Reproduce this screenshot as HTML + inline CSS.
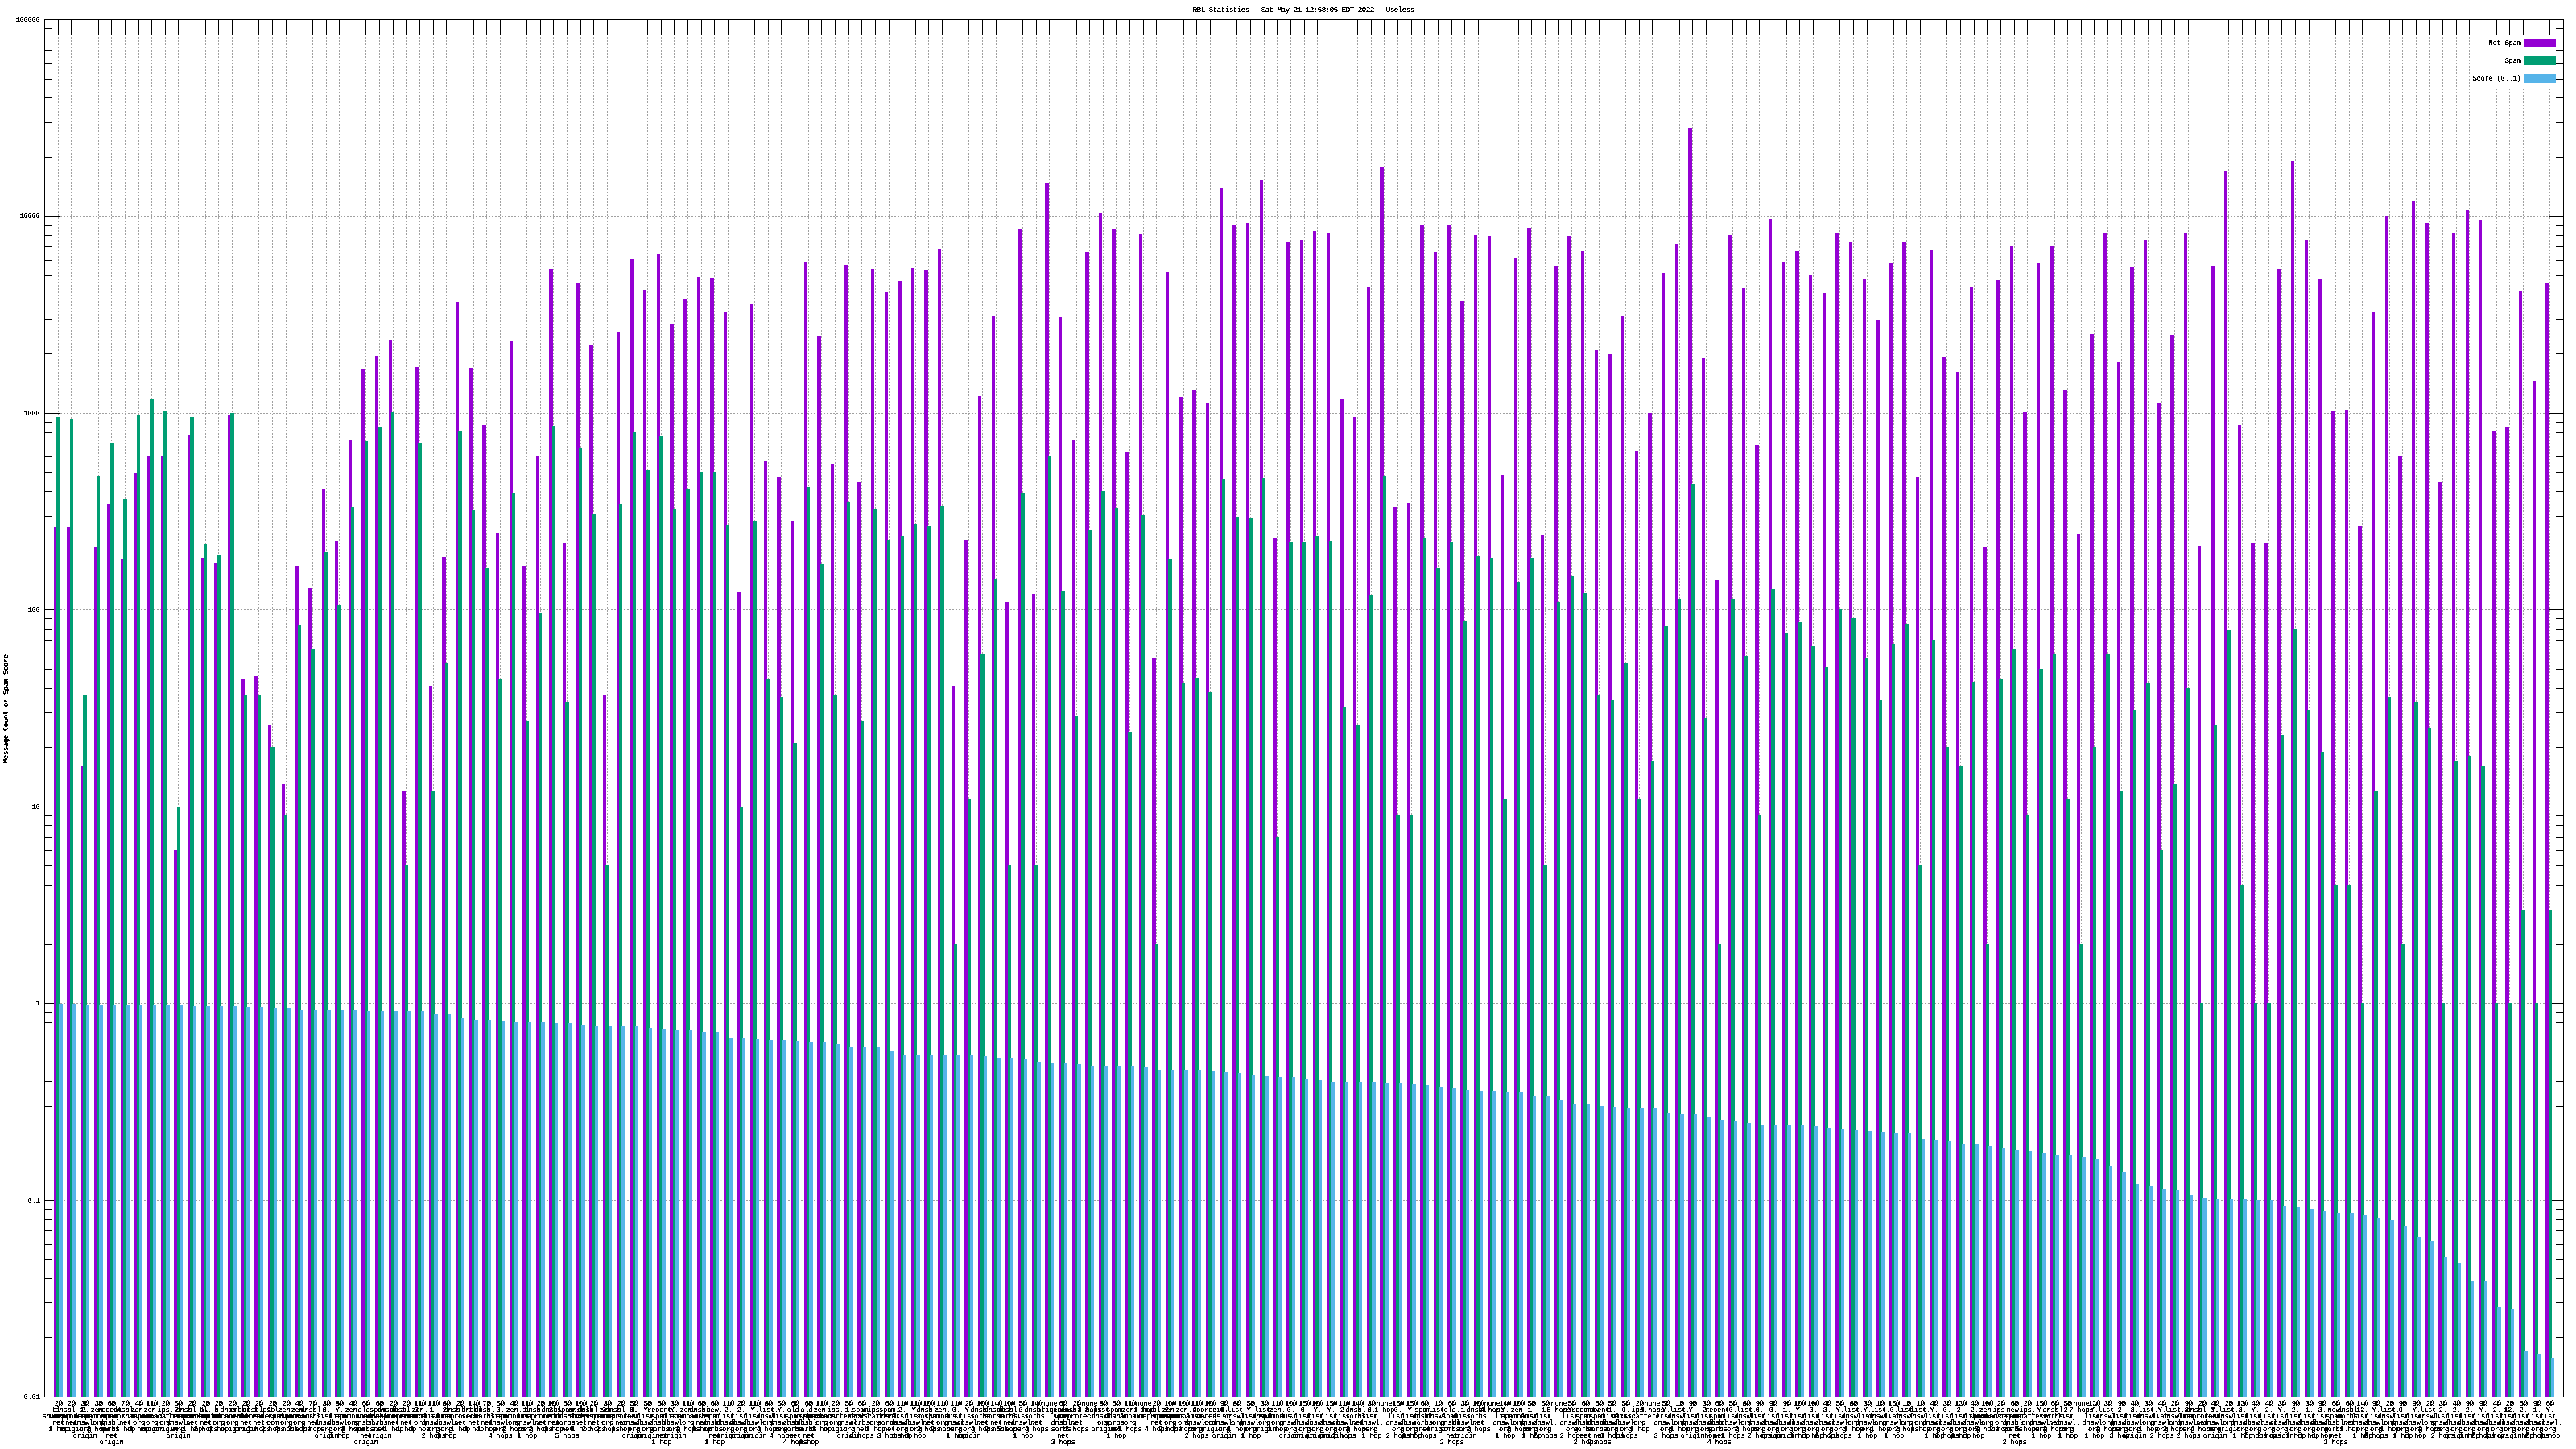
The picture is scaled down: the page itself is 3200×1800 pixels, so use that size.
<!DOCTYPE html>
<html><head><meta charset="utf-8"><title>RBL Statistics</title>
<style>html,body{margin:0;padding:0;background:#fff}svg{display:block}text{font-family:"Liberation Mono","DejaVu Sans Mono",monospace;font-size:9px;letter-spacing:-0.4px;fill:#000;stroke:#000;stroke-width:0px;text-rendering:geometricPrecision}</style></head><body>
<svg width="3200" height="1800" viewBox="0 0 3200 1800" shape-rendering="crispEdges">
<rect width="3200" height="1800" fill="#fff"/>
<defs><filter id="px" x="0" y="0" width="100%" height="100%" filterUnits="userSpaceOnUse" primitiveUnits="userSpaceOnUse" color-interpolation-filters="sRGB"><feComponentTransfer><feFuncA type="discrete" tableValues="0 1 1"/></feComponentTransfer></filter></defs>
<g stroke="#a0a0a0" stroke-width="1" stroke-dasharray="2 2" fill="none">
<path d="M72.5 46V1735M88.5 46V1735M105.5 46V1735M122.5 46V1735M138.5 46V1735M155.5 46V1735M172.5 46V1735M188.5 46V1735M205.5 46V1735M221.5 46V1735M238.5 46V1735M255.5 46V1735M271.5 46V1735M288.5 46V1735M305.5 46V1735M321.5 46V1735M338.5 46V1735M355.5 46V1735M371.5 46V1735M388.5 46V1735M405.5 46V1735M421.5 46V1735M438.5 46V1735M454.5 46V1735M471.5 46V1735M488.5 46V1735M504.5 46V1735M521.5 46V1735M538.5 46V1735M554.5 46V1735M571.5 46V1735M588.5 46V1735M604.5 46V1735M621.5 46V1735M638.5 46V1735M654.5 46V1735M671.5 46V1735M687.5 46V1735M704.5 46V1735M721.5 46V1735M737.5 46V1735M754.5 46V1735M771.5 46V1735M787.5 46V1735M804.5 46V1735M821.5 46V1735M837.5 46V1735M854.5 46V1735M871.5 46V1735M887.5 46V1735M904.5 46V1735M920.5 46V1735M937.5 46V1735M954.5 46V1735M970.5 46V1735M987.5 46V1735M1004.5 46V1735M1020.5 46V1735M1037.5 46V1735M1054.5 46V1735M1070.5 46V1735M1087.5 46V1735M1104.5 46V1735M1120.5 46V1735M1137.5 46V1735M1153.5 46V1735M1170.5 46V1735M1187.5 46V1735M1203.5 46V1735M1220.5 46V1735M1237.5 46V1735M1253.5 46V1735M1270.5 46V1735M1287.5 46V1735M1303.5 46V1735M1320.5 46V1735M1337.5 46V1735M1353.5 46V1735M1370.5 46V1735M1386.5 46V1735M1403.5 46V1735M1420.5 46V1735M1436.5 46V1735M1453.5 46V1735M1470.5 46V1735M1486.5 46V1735M1503.5 46V1735M1520.5 46V1735M1536.5 46V1735M1553.5 46V1735M1570.5 46V1735M1586.5 46V1735M1603.5 46V1735M1620.5 46V1735M1636.5 46V1735M1653.5 46V1735M1669.5 46V1735M1686.5 46V1735M1703.5 46V1735M1719.5 46V1735M1736.5 46V1735M1753.5 46V1735M1769.5 46V1735M1786.5 46V1735M1803.5 46V1735M1819.5 46V1735M1836.5 46V1735M1853.5 46V1735M1869.5 46V1735M1886.5 46V1735M1902.5 46V1735M1919.5 46V1735M1936.5 46V1735M1952.5 46V1735M1969.5 46V1735M1986.5 46V1735M2002.5 46V1735M2019.5 46V1735M2036.5 46V1735M2052.5 46V1735M2069.5 46V1735M2086.5 46V1735M2102.5 46V1735M2119.5 46V1735M2135.5 46V1735M2152.5 46V1735M2169.5 46V1735M2185.5 46V1735M2202.5 46V1735M2219.5 46V1735M2235.5 46V1735M2252.5 46V1735M2269.5 46V1735M2285.5 46V1735M2302.5 46V1735M2319.5 46V1735M2335.5 46V1735M2352.5 46V1735M2368.5 46V1735M2385.5 46V1735M2402.5 46V1735M2418.5 46V1735M2435.5 46V1735M2452.5 46V1735M2468.5 46V1735M2485.5 46V1735M2502.5 46V1735M2518.5 46V1735M2535.5 46V1735M2552.5 46V1735M2568.5 46V1735M2585.5 46V1735M2601.5 46V1735M2618.5 46V1735M2635.5 46V1735M2651.5 46V1735M2668.5 46V1735M2685.5 46V1735M2701.5 46V1735M2718.5 46V1735M2735.5 46V1735M2751.5 46V1735M2768.5 46V1735M2785.5 46V1735M2801.5 46V1735M2818.5 46V1735M2834.5 46V1735M2851.5 46V1735M2868.5 46V1735M2884.5 46V1735M2901.5 46V1735M2918.5 46V1735M2934.5 46V1735M2951.5 46V1735M2968.5 46V1735M2984.5 46V1735M3001.5 46V1735M3018.5 46V1735M3034.5 46V1735M3051.5 46V1735M3067.5 46V1735M3084.5 46V1735M3101.5 46V1735M3117.5 46V1735M3134.5 46V1735M3151.5 46V1735M3167.5 46V1735"/>
<path d="M75 1491.5H3166M75 1246.5H3166M75 1002.5H3166M75 757.5H3166M75 513.5H3166M75 268.5H3166"/>
</g>
<rect x="3069" y="43" width="115" height="67" fill="#fff"/>
<path stroke="#000" stroke-width="1" fill="none" d="M72.5 25v18M88.5 25v18M105.5 25v18M122.5 25v18M138.5 25v18M155.5 25v18M172.5 25v18M188.5 25v18M205.5 25v18M221.5 25v18M238.5 25v18M255.5 25v18M271.5 25v18M288.5 25v18M305.5 25v18M321.5 25v18M338.5 25v18M355.5 25v18M371.5 25v18M388.5 25v18M405.5 25v18M421.5 25v18M438.5 25v18M454.5 25v18M471.5 25v18M488.5 25v18M504.5 25v18M521.5 25v18M538.5 25v18M554.5 25v18M571.5 25v18M588.5 25v18M604.5 25v18M621.5 25v18M638.5 25v18M654.5 25v18M671.5 25v18M687.5 25v18M704.5 25v18M721.5 25v18M737.5 25v18M754.5 25v18M771.5 25v18M787.5 25v18M804.5 25v18M821.5 25v18M837.5 25v18M854.5 25v18M871.5 25v18M887.5 25v18M904.5 25v18M920.5 25v18M937.5 25v18M954.5 25v18M970.5 25v18M987.5 25v18M1004.5 25v18M1020.5 25v18M1037.5 25v18M1054.5 25v18M1070.5 25v18M1087.5 25v18M1104.5 25v18M1120.5 25v18M1137.5 25v18M1153.5 25v18M1170.5 25v18M1187.5 25v18M1203.5 25v18M1220.5 25v18M1237.5 25v18M1253.5 25v18M1270.5 25v18M1287.5 25v18M1303.5 25v18M1320.5 25v18M1337.5 25v18M1353.5 25v18M1370.5 25v18M1386.5 25v18M1403.5 25v18M1420.5 25v18M1436.5 25v18M1453.5 25v18M1470.5 25v18M1486.5 25v18M1503.5 25v18M1520.5 25v18M1536.5 25v18M1553.5 25v18M1570.5 25v18M1586.5 25v18M1603.5 25v18M1620.5 25v18M1636.5 25v18M1653.5 25v18M1669.5 25v18M1686.5 25v18M1703.5 25v18M1719.5 25v18M1736.5 25v18M1753.5 25v18M1769.5 25v18M1786.5 25v18M1803.5 25v18M1819.5 25v18M1836.5 25v18M1853.5 25v18M1869.5 25v18M1886.5 25v18M1902.5 25v18M1919.5 25v18M1936.5 25v18M1952.5 25v18M1969.5 25v18M1986.5 25v18M2002.5 25v18M2019.5 25v18M2036.5 25v18M2052.5 25v18M2069.5 25v18M2086.5 25v18M2102.5 25v18M2119.5 25v18M2135.5 25v18M2152.5 25v18M2169.5 25v18M2185.5 25v18M2202.5 25v18M2219.5 25v18M2235.5 25v18M2252.5 25v18M2269.5 25v18M2285.5 25v18M2302.5 25v18M2319.5 25v18M2335.5 25v18M2352.5 25v18M2368.5 25v18M2385.5 25v18M2402.5 25v18M2418.5 25v18M2435.5 25v18M2452.5 25v18M2468.5 25v18M2485.5 25v18M2502.5 25v18M2518.5 25v18M2535.5 25v18M2552.5 25v18M2568.5 25v18M2585.5 25v18M2601.5 25v18M2618.5 25v18M2635.5 25v18M2651.5 25v18M2668.5 25v18M2685.5 25v18M2701.5 25v18M2718.5 25v18M2735.5 25v18M2751.5 25v18M2768.5 25v18M2785.5 25v18M2801.5 25v18M2818.5 25v18M2834.5 25v18M2851.5 25v18M2868.5 25v18M2884.5 25v18M2901.5 25v18M2918.5 25v18M2934.5 25v18M2951.5 25v18M2968.5 25v18M2984.5 25v18M3001.5 25v18M3018.5 25v18M3034.5 25v18M3051.5 25v18M3067.5 25v18M3084.5 25v18M3101.5 25v18M3117.5 25v18M3134.5 25v18M3151.5 25v18M3167.5 25v18M56 1661.5h9M3184 1661.5h-9M56 1618.5h9M3184 1618.5h-9M56 1588.5h9M3184 1588.5h-9M56 1564.5h9M3184 1564.5h-9M56 1545.5h9M3184 1545.5h-9M56 1528.5h9M3184 1528.5h-9M56 1514.5h9M3184 1514.5h-9M56 1502.5h9M3184 1502.5h-9M56 1491.5h18M3184 1491.5h-18M56 1417.5h9M3184 1417.5h-9M56 1374.5h9M3184 1374.5h-9M56 1343.5h9M3184 1343.5h-9M56 1320.5h9M3184 1320.5h-9M56 1300.5h9M3184 1300.5h-9M56 1284.5h9M3184 1284.5h-9M56 1270.5h9M3184 1270.5h-9M56 1257.5h9M3184 1257.5h-9M56 1246.5h18M3184 1246.5h-18M56 1173.5h9M3184 1173.5h-9M56 1130.5h9M3184 1130.5h-9M56 1099.5h9M3184 1099.5h-9M56 1075.5h9M3184 1075.5h-9M56 1056.5h9M3184 1056.5h-9M56 1040.5h9M3184 1040.5h-9M56 1025.5h9M3184 1025.5h-9M56 1013.5h9M3184 1013.5h-9M56 1002.5h18M3184 1002.5h-18M56 928.5h9M3184 928.5h-9M56 885.5h9M3184 885.5h-9M56 855.5h9M3184 855.5h-9M56 831.5h9M3184 831.5h-9M56 812.5h9M3184 812.5h-9M56 795.5h9M3184 795.5h-9M56 781.5h9M3184 781.5h-9M56 768.5h9M3184 768.5h-9M56 757.5h18M3184 757.5h-18M56 684.5h9M3184 684.5h-9M56 641.5h9M3184 641.5h-9M56 610.5h9M3184 610.5h-9M56 586.5h9M3184 586.5h-9M56 567.5h9M3184 567.5h-9M56 551.5h9M3184 551.5h-9M56 537.5h9M3184 537.5h-9M56 524.5h9M3184 524.5h-9M56 513.5h18M3184 513.5h-18M56 439.5h9M3184 439.5h-9M56 396.5h9M3184 396.5h-9M56 366.5h9M3184 366.5h-9M56 342.5h9M3184 342.5h-9M56 323.5h9M3184 323.5h-9M56 306.5h9M3184 306.5h-9M56 292.5h9M3184 292.5h-9M56 280.5h9M3184 280.5h-9M56 268.5h18M3184 268.5h-18M56 195.5h9M3184 195.5h-9M56 152.5h9M3184 152.5h-9M56 121.5h9M3184 121.5h-9M56 98.5h9M3184 98.5h-9M56 78.5h9M3184 78.5h-9M56 62.5h9M3184 62.5h-9M56 48.5h9M3184 48.5h-9M56 35.5h9M3184 35.5h-9"/>
<path fill="#9400d3" d="M67 655h4V1735h-4zM83 655h5V1735h-5zM100 952h4V1735h-4zM117 680h4V1735h-4zM133 626h5V1735h-5zM150 694h4V1735h-4zM167 588h4V1735h-4zM183 567h4V1735h-4zM200 566h4V1735h-4zM216 1056h5V1735h-5zM233 540h4V1735h-4zM250 693h4V1735h-4zM266 699h5V1735h-5zM283 516h4V1735h-4zM300 844h4V1735h-4zM316 840h5V1735h-5zM333 900h4V1735h-4zM350 974h4V1735h-4zM366 703h5V1735h-5zM383 731h4V1735h-4zM400 608h4V1735h-4zM416 672h4V1735h-4zM433 546h4V1735h-4zM449 459h5V1735h-5zM466 442h4V1735h-4zM483 422h4V1735h-4zM499 982h5V1735h-5zM516 456h4V1735h-4zM533 852h4V1735h-4zM549 692h5V1735h-5zM566 375h4V1735h-4zM583 457h4V1735h-4zM599 528h5V1735h-5zM616 662h4V1735h-4zM633 423h4V1735h-4zM649 703h5V1735h-5zM666 566h4V1735h-4zM682 334h5V1735h-5zM699 674h4V1735h-4zM716 352h4V1735h-4zM732 428h5V1735h-5zM749 863h4V1735h-4zM766 412h4V1735h-4zM782 322h5V1735h-5zM799 360h4V1735h-4zM816 315h4V1735h-4zM832 402h5V1735h-5zM849 371h4V1735h-4zM866 344h4V1735h-4zM882 345h5V1735h-5zM899 387h4V1735h-4zM915 735h5V1735h-5zM932 378h4V1735h-4zM949 573h4V1735h-4zM965 593h5V1735h-5zM982 647h4V1735h-4zM999 326h4V1735h-4zM1015 418h5V1735h-5zM1032 576h4V1735h-4zM1049 329h4V1735h-4zM1065 599h5V1735h-5zM1082 334h4V1735h-4zM1099 363h4V1735h-4zM1115 349h5V1735h-5zM1132 333h4V1735h-4zM1148 336h5V1735h-5zM1165 309h4V1735h-4zM1182 852h4V1735h-4zM1198 671h5V1735h-5zM1215 492h4V1735h-4zM1232 392h4V1735h-4zM1248 748h5V1735h-5zM1265 284h4V1735h-4zM1282 738h4V1735h-4zM1298 227h5V1735h-5zM1315 394h4V1735h-4zM1332 547h4V1735h-4zM1348 313h5V1735h-5zM1365 264h4V1735h-4zM1381 284h5V1735h-5zM1398 561h4V1735h-4zM1415 291h4V1735h-4zM1431 817h5V1735h-5zM1448 338h4V1735h-4zM1465 493h4V1735h-4zM1481 485h5V1735h-5zM1498 501h4V1735h-4zM1515 234h4V1735h-4zM1531 279h5V1735h-5zM1548 277h4V1735h-4zM1565 224h4V1735h-4zM1581 668h5V1735h-5zM1598 301h4V1735h-4zM1615 298h4V1735h-4zM1631 287h4V1735h-4zM1648 290h4V1735h-4zM1664 496h5V1735h-5zM1681 518h4V1735h-4zM1698 356h4V1735h-4zM1714 208h5V1735h-5zM1731 630h4V1735h-4zM1748 625h4V1735h-4zM1764 280h5V1735h-5zM1781 313h4V1735h-4zM1798 279h4V1735h-4zM1814 374h5V1735h-5zM1831 292h4V1735h-4zM1848 293h4V1735h-4zM1864 590h4V1735h-4zM1881 321h4V1735h-4zM1897 283h5V1735h-5zM1914 665h4V1735h-4zM1931 331h4V1735h-4zM1947 293h5V1735h-5zM1964 312h4V1735h-4zM1981 435h4V1735h-4zM1997 440h5V1735h-5zM2014 392h4V1735h-4zM2031 560h4V1735h-4zM2047 513h5V1735h-5zM2064 339h4V1735h-4zM2081 303h4V1735h-4zM2097 159h5V1735h-5zM2114 445h4V1735h-4zM2130 721h5V1735h-5zM2147 292h4V1735h-4zM2164 358h4V1735h-4zM2180 553h5V1735h-5zM2197 272h4V1735h-4zM2214 326h4V1735h-4zM2230 312h5V1735h-5zM2247 341h4V1735h-4zM2264 364h4V1735h-4zM2280 289h5V1735h-5zM2297 300h4V1735h-4zM2314 347h4V1735h-4zM2330 397h5V1735h-5zM2347 327h4V1735h-4zM2363 300h5V1735h-5zM2380 592h4V1735h-4zM2397 311h4V1735h-4zM2413 443h5V1735h-5zM2430 462h4V1735h-4zM2447 356h4V1735h-4zM2463 680h5V1735h-5zM2480 348h4V1735h-4zM2497 306h4V1735h-4zM2513 512h5V1735h-5zM2530 327h4V1735h-4zM2547 306h4V1735h-4zM2563 484h5V1735h-5zM2580 663h4V1735h-4zM2596 415h5V1735h-5zM2613 289h4V1735h-4zM2630 450h4V1735h-4zM2646 332h5V1735h-5zM2663 298h4V1735h-4zM2680 500h4V1735h-4zM2696 416h5V1735h-5zM2713 289h4V1735h-4zM2730 678h4V1735h-4zM2746 330h5V1735h-5zM2763 212h4V1735h-4zM2780 528h4V1735h-4zM2796 675h5V1735h-5zM2813 675h4V1735h-4zM2829 334h5V1735h-5zM2846 200h4V1735h-4zM2863 298h4V1735h-4zM2879 347h5V1735h-5zM2896 510h4V1735h-4zM2913 509h4V1735h-4zM2929 654h5V1735h-5zM2946 387h4V1735h-4zM2963 268h4V1735h-4zM2979 566h5V1735h-5zM2996 250h4V1735h-4zM3013 277h4V1735h-4zM3029 599h5V1735h-5zM3046 290h4V1735h-4zM3063 261h4V1735h-4zM3079 273h4V1735h-4zM3096 535h4V1735h-4zM3112 531h5V1735h-5zM3129 361h4V1735h-4zM3146 473h4V1735h-4zM3162 352h5V1735h-5z"/>
<path fill="#009e73" d="M70 518h4V1735h-4zM87 521h4V1735h-4zM103 863h5V1735h-5zM120 591h4V1735h-4zM137 550h4V1735h-4zM153 620h5V1735h-5zM170 516h4V1735h-4zM186 496h5V1735h-5zM203 510h4V1735h-4zM220 1002h4V1735h-4zM236 518h5V1735h-5zM253 676h4V1735h-4zM270 690h4V1735h-4zM286 513h5V1735h-5zM303 863h4V1735h-4zM320 863h4V1735h-4zM336 928h5V1735h-5zM353 1013h4V1735h-4zM370 777h4V1735h-4zM386 806h5V1735h-5zM403 686h4V1735h-4zM419 751h5V1735h-5zM436 630h4V1735h-4zM453 548h4V1735h-4zM469 531h5V1735h-5zM486 512h4V1735h-4zM503 1075h4V1735h-4zM519 550h5V1735h-5zM536 982h4V1735h-4zM553 823h4V1735h-4zM569 536h5V1735h-5zM586 633h4V1735h-4zM603 705h4V1735h-4zM619 844h5V1735h-5zM636 612h4V1735h-4zM653 896h4V1735h-4zM669 761h4V1735h-4zM686 529h4V1735h-4zM702 872h5V1735h-5zM719 557h4V1735h-4zM736 638h4V1735h-4zM752 1075h5V1735h-5zM769 626h4V1735h-4zM786 537h4V1735h-4zM802 584h5V1735h-5zM819 541h4V1735h-4zM836 632h4V1735h-4zM852 607h5V1735h-5zM869 586h4V1735h-4zM886 586h4V1735h-4zM902 652h4V1735h-4zM919 1002h4V1735h-4zM935 647h5V1735h-5zM952 844h4V1735h-4zM969 866h4V1735h-4zM985 923h5V1735h-5zM1002 605h4V1735h-4zM1019 700h4V1735h-4zM1035 863h5V1735h-5zM1052 623h4V1735h-4zM1069 896h4V1735h-4zM1085 632h5V1735h-5zM1102 671h4V1735h-4zM1119 666h4V1735h-4zM1135 651h4V1735h-4zM1152 653h4V1735h-4zM1168 628h5V1735h-5zM1185 1173h4V1735h-4zM1202 992h4V1735h-4zM1218 813h5V1735h-5zM1235 719h4V1735h-4zM1252 1075h4V1735h-4zM1268 613h5V1735h-5zM1285 1075h4V1735h-4zM1302 567h4V1735h-4zM1318 734h5V1735h-5zM1335 889h4V1735h-4zM1352 659h4V1735h-4zM1368 610h5V1735h-5zM1385 631h4V1735h-4zM1401 909h5V1735h-5zM1418 640h4V1735h-4zM1435 1173h4V1735h-4zM1451 695h5V1735h-5zM1468 849h4V1735h-4zM1485 842h4V1735h-4zM1501 860h5V1735h-5zM1518 595h4V1735h-4zM1535 642h4V1735h-4zM1551 644h5V1735h-5zM1568 594h4V1735h-4zM1585 1040h4V1735h-4zM1601 673h5V1735h-5zM1618 673h4V1735h-4zM1634 666h5V1735h-5zM1651 672h4V1735h-4zM1668 878h4V1735h-4zM1684 900h5V1735h-5zM1701 739h4V1735h-4zM1718 591h4V1735h-4zM1734 1013h5V1735h-5zM1751 1013h4V1735h-4zM1768 668h4V1735h-4zM1784 705h5V1735h-5zM1801 673h4V1735h-4zM1818 772h4V1735h-4zM1834 691h5V1735h-5zM1851 693h4V1735h-4zM1867 992h5V1735h-5zM1884 723h4V1735h-4zM1901 693h4V1735h-4zM1917 1075h5V1735h-5zM1934 748h4V1735h-4zM1951 716h4V1735h-4zM1967 737h5V1735h-5zM1984 863h4V1735h-4zM2001 869h4V1735h-4zM2017 823h5V1735h-5zM2034 992h4V1735h-4zM2051 945h4V1735h-4zM2067 778h5V1735h-5zM2084 744h4V1735h-4zM2101 601h4V1735h-4zM2117 892h4V1735h-4zM2134 1173h4V1735h-4zM2150 744h5V1735h-5zM2167 815h4V1735h-4zM2184 1013h4V1735h-4zM2200 732h5V1735h-5zM2217 786h4V1735h-4zM2234 773h4V1735h-4zM2250 803h5V1735h-5zM2267 829h4V1735h-4zM2284 757h4V1735h-4zM2300 768h5V1735h-5zM2317 817h4V1735h-4zM2334 869h4V1735h-4zM2350 800h4V1735h-4zM2367 775h4V1735h-4zM2383 1075h5V1735h-5zM2400 795h4V1735h-4zM2417 928h4V1735h-4zM2433 952h5V1735h-5zM2450 847h4V1735h-4zM2467 1173h4V1735h-4zM2483 844h5V1735h-5zM2500 806h4V1735h-4zM2517 1013h4V1735h-4zM2533 831h5V1735h-5zM2550 813h4V1735h-4zM2567 992h4V1735h-4zM2583 1173h4V1735h-4zM2600 928h4V1735h-4zM2616 812h5V1735h-5zM2633 982h4V1735h-4zM2650 882h4V1735h-4zM2666 849h5V1735h-5zM2683 1056h4V1735h-4zM2700 974h4V1735h-4zM2716 855h5V1735h-5zM2733 1246h4V1735h-4zM2750 900h4V1735h-4zM2766 782h5V1735h-5zM2783 1099h4V1735h-4zM2800 1246h4V1735h-4zM2816 1246h5V1735h-5zM2833 913h4V1735h-4zM2849 781h5V1735h-5zM2866 882h4V1735h-4zM2883 934h4V1735h-4zM2899 1099h5V1735h-5zM2916 1099h4V1735h-4zM2933 1246h4V1735h-4zM2949 982h5V1735h-5zM2966 866h4V1735h-4zM2983 1173h4V1735h-4zM2999 872h5V1735h-5zM3016 904h4V1735h-4zM3033 1246h4V1735h-4zM3049 945h5V1735h-5zM3066 939h4V1735h-4zM3082 952h5V1735h-5zM3099 1246h4V1735h-4zM3116 1246h4V1735h-4zM3132 1130h5V1735h-5zM3149 1246h4V1735h-4zM3166 1130h4V1735h-4z"/>
<path fill="#56b4e9" d="M73 1247h5V1735h-5zM90 1247h4V1735h-4zM107 1248h4V1735h-4zM123 1248h5V1735h-5zM140 1248h4V1735h-4zM157 1248h4V1735h-4zM173 1248h4V1735h-4zM190 1248h4V1735h-4zM206 1249h5V1735h-5zM223 1249h4V1735h-4zM240 1250h4V1735h-4zM256 1250h5V1735h-5zM273 1250h4V1735h-4zM290 1250h4V1735h-4zM306 1251h5V1735h-5zM323 1251h4V1735h-4zM340 1252h4V1735h-4zM356 1252h5V1735h-5zM373 1255h4V1735h-4zM390 1255h4V1735h-4zM406 1255h5V1735h-5zM423 1255h4V1735h-4zM439 1255h5V1735h-5zM456 1256h4V1735h-4zM473 1256h4V1735h-4zM489 1256h5V1735h-5zM506 1256h4V1735h-4zM523 1256h4V1735h-4zM539 1260h5V1735h-5zM556 1260h4V1735h-4zM573 1264h4V1735h-4zM589 1267h5V1735h-5zM606 1267h4V1735h-4zM623 1268h4V1735h-4zM639 1269h5V1735h-5zM656 1270h4V1735h-4zM672 1270h5V1735h-5zM689 1271h4V1735h-4zM706 1271h4V1735h-4zM722 1273h5V1735h-5zM739 1274h4V1735h-4zM756 1274h4V1735h-4zM772 1275h5V1735h-5zM789 1275h4V1735h-4zM806 1277h4V1735h-4zM822 1278h5V1735h-5zM839 1279h4V1735h-4zM856 1280h4V1735h-4zM872 1282h5V1735h-5zM889 1282h4V1735h-4zM905 1289h5V1735h-5zM922 1290h4V1735h-4zM939 1291h4V1735h-4zM955 1292h5V1735h-5zM972 1292h4V1735h-4zM989 1293h4V1735h-4zM1005 1294h5V1735h-5zM1022 1295h4V1735h-4zM1039 1297h4V1735h-4zM1055 1300h5V1735h-5zM1072 1301h4V1735h-4zM1089 1301h4V1735h-4zM1105 1306h5V1735h-5zM1122 1310h4V1735h-4zM1138 1310h5V1735h-5zM1155 1310h4V1735h-4zM1172 1311h4V1735h-4zM1188 1311h5V1735h-5zM1205 1311h4V1735h-4zM1222 1312h4V1735h-4zM1238 1314h5V1735h-5zM1255 1314h4V1735h-4zM1272 1315h4V1735h-4zM1288 1319h5V1735h-5zM1305 1320h4V1735h-4zM1322 1321h4V1735h-4zM1338 1322h5V1735h-5zM1355 1324h4V1735h-4zM1372 1324h4V1735h-4zM1388 1324h4V1735h-4zM1405 1324h4V1735h-4zM1421 1325h5V1735h-5zM1438 1329h4V1735h-4zM1455 1329h4V1735h-4zM1471 1329h5V1735h-5zM1488 1329h4V1735h-4zM1505 1331h4V1735h-4zM1521 1332h5V1735h-5zM1538 1333h4V1735h-4zM1555 1335h4V1735h-4zM1571 1337h5V1735h-5zM1588 1338h4V1735h-4zM1605 1338h4V1735h-4zM1621 1340h4V1735h-4zM1638 1342h4V1735h-4zM1654 1344h5V1735h-5zM1671 1344h4V1735h-4zM1688 1344h4V1735h-4zM1704 1344h5V1735h-5zM1721 1345h4V1735h-4zM1738 1345h4V1735h-4zM1754 1347h5V1735h-5zM1771 1348h4V1735h-4zM1788 1350h4V1735h-4zM1804 1351h5V1735h-5zM1821 1354h4V1735h-4zM1838 1355h4V1735h-4zM1854 1355h5V1735h-5zM1871 1356h4V1735h-4zM1887 1357h5V1735h-5zM1904 1362h4V1735h-4zM1921 1362h4V1735h-4zM1937 1367h5V1735h-5zM1954 1371h4V1735h-4zM1971 1372h4V1735h-4zM1987 1374h5V1735h-5zM2004 1375h4V1735h-4zM2021 1376h4V1735h-4zM2037 1377h5V1735h-5zM2054 1377h4V1735h-4zM2071 1382h4V1735h-4zM2087 1384h5V1735h-5zM2104 1384h4V1735h-4zM2120 1388h5V1735h-5zM2137 1391h4V1735h-4zM2154 1392h4V1735h-4zM2170 1395h5V1735h-5zM2187 1397h4V1735h-4zM2204 1397h4V1735h-4zM2220 1397h5V1735h-5zM2237 1398h4V1735h-4zM2254 1399h4V1735h-4zM2270 1401h5V1735h-5zM2287 1403h4V1735h-4zM2304 1404h4V1735h-4zM2320 1405h5V1735h-5zM2337 1406h4V1735h-4zM2353 1407h5V1735h-5zM2370 1408h4V1735h-4zM2387 1415h4V1735h-4zM2403 1416h5V1735h-5zM2420 1417h4V1735h-4zM2437 1421h4V1735h-4zM2453 1421h5V1735h-5zM2470 1423h4V1735h-4zM2487 1426h4V1735h-4zM2503 1429h5V1735h-5zM2520 1430h4V1735h-4zM2537 1432h4V1735h-4zM2553 1435h5V1735h-5zM2570 1435h4V1735h-4zM2586 1437h5V1735h-5zM2603 1440h4V1735h-4zM2620 1448h4V1735h-4zM2636 1456h5V1735h-5zM2653 1471h4V1735h-4zM2670 1473h4V1735h-4zM2686 1477h5V1735h-5zM2703 1478h4V1735h-4zM2720 1485h4V1735h-4zM2736 1488h5V1735h-5zM2753 1489h4V1735h-4zM2770 1490h4V1735h-4zM2786 1490h5V1735h-5zM2803 1491h4V1735h-4zM2820 1491h4V1735h-4zM2836 1498h4V1735h-4zM2853 1499h4V1735h-4zM2869 1502h5V1735h-5zM2886 1504h4V1735h-4zM2903 1507h4V1735h-4zM2919 1507h5V1735h-5zM2936 1509h4V1735h-4zM2953 1513h4V1735h-4zM2969 1515h5V1735h-5zM2986 1523h4V1735h-4zM3003 1537h4V1735h-4zM3019 1542h5V1735h-5zM3036 1561h4V1735h-4zM3053 1569h4V1735h-4zM3069 1591h4V1735h-4zM3086 1591h4V1735h-4zM3102 1623h5V1735h-5zM3119 1626h4V1735h-4zM3136 1678h4V1735h-4zM3152 1682h5V1735h-5zM3169 1687h4V1735h-4z"/>
<g filter="url(#px)">
<text x="3131.5" y="55.9" text-anchor="end">Not Spam</text>
<rect x="3136" y="48" width="39" height="11" fill="#9400d3"/>
<text x="3131.5" y="77.9" text-anchor="end">Spam</text>
<rect x="3136" y="70" width="39" height="11" fill="#009e73"/>
<text x="3131.5" y="99.9" text-anchor="end">Score (0..1)</text>
<rect x="3136" y="92" width="39" height="11" fill="#56b4e9"/>
<path stroke="#000" stroke-width="1" fill="none" d="M55.5 24.5H3184.5V1735.5H55.5z"/>
<text x="1619.2" y="15" text-anchor="middle">RBL Statistics - Sat May 21 12:58:05 EDT 2022 - Useless</text>
<text x="49.5" y="1737.6" text-anchor="end">0.01</text>
<text x="49.5" y="1493.6" text-anchor="end">0.1</text>
<text x="49.5" y="1248.6" text-anchor="end">1</text>
<text x="49.5" y="1004.6" text-anchor="end">10</text>
<text x="49.5" y="759.6" text-anchor="end">100</text>
<text x="49.5" y="515.6" text-anchor="end">1000</text>
<text x="49.5" y="270.6" text-anchor="end">10000</text>
<text x="49.5" y="26.6" text-anchor="end">100000</text>
<text transform="translate(9.8 880.5) rotate(-90)" text-anchor="middle">Message Count or Spam Score</text>
<g text-anchor="middle">
<text><tspan x="72.5" y="1746">2@</tspan><tspan x="72.5" y="1754">bl.</tspan><tspan x="72.5" y="1762">spamcop.</tspan><tspan x="72.5" y="1770">net</tspan><tspan x="72.5" y="1778">1 hop</tspan></text>
<text><tspan x="88.5" y="1746">2@</tspan><tspan x="88.5" y="1754">dnsbl-2.</tspan><tspan x="88.5" y="1762">uceprotect.</tspan><tspan x="88.5" y="1770">net</tspan><tspan x="88.5" y="1778">origin</tspan></text>
<text><tspan x="105.5" y="1746">3@</tspan><tspan x="105.5" y="1754">2.</tspan><tspan x="105.5" y="1762">list.</tspan><tspan x="105.5" y="1770">dnswl.</tspan><tspan x="105.5" y="1778">org</tspan><tspan x="105.5" y="1786">origin</tspan></text>
<text><tspan x="122.5" y="1746">3@</tspan><tspan x="122.5" y="1754">zen.</tspan><tspan x="122.5" y="1762">spamhaus.</tspan><tspan x="122.5" y="1770">org</tspan><tspan x="122.5" y="1778">2 hops</tspan></text>
<text><tspan x="138.5" y="1746">6@</tspan><tspan x="138.5" y="1754">recent.</tspan><tspan x="138.5" y="1762">spam.</tspan><tspan x="138.5" y="1770">dnsbl.</tspan><tspan x="138.5" y="1778">sorbs.</tspan><tspan x="138.5" y="1786">net</tspan><tspan x="138.5" y="1794">origin</tspan></text>
<text><tspan x="155.5" y="1746">7@</tspan><tspan x="155.5" y="1754">dnsbl.</tspan><tspan x="155.5" y="1762">sorbs.</tspan><tspan x="155.5" y="1770">net</tspan><tspan x="155.5" y="1778">1 hop</tspan></text>
<text><tspan x="172.5" y="1746">4@</tspan><tspan x="172.5" y="1754">zen.</tspan><tspan x="172.5" y="1762">spamhaus.</tspan><tspan x="172.5" y="1770">org</tspan><tspan x="172.5" y="1778">1 hop</tspan></text>
<text><tspan x="188.5" y="1746">11@</tspan><tspan x="188.5" y="1754">zen.</tspan><tspan x="188.5" y="1762">spamhaus.</tspan><tspan x="188.5" y="1770">org</tspan><tspan x="188.5" y="1778">origin</tspan></text>
<text><tspan x="205.5" y="1746">2@</tspan><tspan x="205.5" y="1754">ips.</tspan><tspan x="205.5" y="1762">backscatterer.</tspan><tspan x="205.5" y="1770">org</tspan><tspan x="205.5" y="1778">origin</tspan></text>
<text><tspan x="221.5" y="1746">5@</tspan><tspan x="221.5" y="1754">2.</tspan><tspan x="221.5" y="1762">list.</tspan><tspan x="221.5" y="1770">dnswl.</tspan><tspan x="221.5" y="1778">org</tspan><tspan x="221.5" y="1786">origin</tspan></text>
<text><tspan x="238.5" y="1746">2@</tspan><tspan x="238.5" y="1754">dnsbl-1.</tspan><tspan x="238.5" y="1762">uceprotect.</tspan><tspan x="238.5" y="1770">net</tspan><tspan x="238.5" y="1778">1 hop</tspan></text>
<text><tspan x="255.5" y="1746">2@</tspan><tspan x="255.5" y="1754">bl.</tspan><tspan x="255.5" y="1762">mailspike.</tspan><tspan x="255.5" y="1770">net</tspan><tspan x="255.5" y="1778">2 hops</tspan></text>
<text><tspan x="271.5" y="1746">2@</tspan><tspan x="271.5" y="1754">b.</tspan><tspan x="271.5" y="1762">barracudacentral.</tspan><tspan x="271.5" y="1770">org</tspan><tspan x="271.5" y="1778">1 hop</tspan></text>
<text><tspan x="288.5" y="1746">2@</tspan><tspan x="288.5" y="1754">dnsbl.</tspan><tspan x="288.5" y="1762">dronebl.</tspan><tspan x="288.5" y="1770">org</tspan><tspan x="288.5" y="1778">origin</tspan></text>
<text><tspan x="305.5" y="1746">2@</tspan><tspan x="305.5" y="1754">dnsbl-1.</tspan><tspan x="305.5" y="1762">uceprotect.</tspan><tspan x="305.5" y="1770">net</tspan><tspan x="305.5" y="1778">origin</tspan></text>
<text><tspan x="321.5" y="1746">2@</tspan><tspan x="321.5" y="1754">dnsbl-2.</tspan><tspan x="321.5" y="1762">uceprotect.</tspan><tspan x="321.5" y="1770">net</tspan><tspan x="321.5" y="1778">2 hops</tspan></text>
<text><tspan x="338.5" y="1746">2@</tspan><tspan x="338.5" y="1754">psbl.</tspan><tspan x="338.5" y="1762">surriel.</tspan><tspan x="338.5" y="1770">com</tspan><tspan x="338.5" y="1778">2 hops</tspan></text>
<text><tspan x="355.5" y="1746">2@</tspan><tspan x="355.5" y="1754">zen.</tspan><tspan x="355.5" y="1762">spamhaus.</tspan><tspan x="355.5" y="1770">org</tspan><tspan x="355.5" y="1778">4 hops</tspan></text>
<text><tspan x="371.5" y="1746">4@</tspan><tspan x="371.5" y="1754">zen.</tspan><tspan x="371.5" y="1762">spamhaus.</tspan><tspan x="371.5" y="1770">org</tspan><tspan x="371.5" y="1778">2 hops</tspan></text>
<text><tspan x="388.5" y="1746">7@</tspan><tspan x="388.5" y="1754">dnsbl.</tspan><tspan x="388.5" y="1762">sorbs.</tspan><tspan x="388.5" y="1770">net</tspan><tspan x="388.5" y="1778">2 hops</tspan></text>
<text><tspan x="405.5" y="1746">3@</tspan><tspan x="405.5" y="1754">0.</tspan><tspan x="405.5" y="1762">list.</tspan><tspan x="405.5" y="1770">dnswl.</tspan><tspan x="405.5" y="1778">org</tspan><tspan x="405.5" y="1786">origin</tspan></text>
<text><tspan x="421.5" y="1746">8@</tspan><tspan x="421.5" y="1754">Y.</tspan><tspan x="421.5" y="1762">list.</tspan><tspan x="421.5" y="1770">dnswl.</tspan><tspan x="421.5" y="1778">org</tspan><tspan x="421.5" y="1786">1 hop</tspan></text>
<text><tspan x="438.5" y="1746">4@</tspan><tspan x="438.5" y="1754">zen.</tspan><tspan x="438.5" y="1762">spamhaus.</tspan><tspan x="438.5" y="1770">org</tspan><tspan x="438.5" y="1778">3 hops</tspan></text>
<text><tspan x="454.5" y="1746">6@</tspan><tspan x="454.5" y="1754">old.</tspan><tspan x="454.5" y="1762">spam.</tspan><tspan x="454.5" y="1770">dnsbl.</tspan><tspan x="454.5" y="1778">sorbs.</tspan><tspan x="454.5" y="1786">net</tspan><tspan x="454.5" y="1794">origin</tspan></text>
<text><tspan x="471.5" y="1746">6@</tspan><tspan x="471.5" y="1754">spam.</tspan><tspan x="471.5" y="1762">dnsbl.</tspan><tspan x="471.5" y="1770">sorbs.</tspan><tspan x="471.5" y="1778">net</tspan><tspan x="471.5" y="1786">origin</tspan></text>
<text><tspan x="488.5" y="1746">2@</tspan><tspan x="488.5" y="1754">dnsbl-1.</tspan><tspan x="488.5" y="1762">uceprotect.</tspan><tspan x="488.5" y="1770">net</tspan><tspan x="488.5" y="1778">1 hop</tspan></text>
<text><tspan x="504.5" y="1746">2@</tspan><tspan x="504.5" y="1754">dnsbl-3.</tspan><tspan x="504.5" y="1762">uceprotect.</tspan><tspan x="504.5" y="1770">net</tspan><tspan x="504.5" y="1778">1 hop</tspan></text>
<text><tspan x="521.5" y="1746">11@</tspan><tspan x="521.5" y="1754">zen.</tspan><tspan x="521.5" y="1762">spamhaus.</tspan><tspan x="521.5" y="1770">org</tspan><tspan x="521.5" y="1778">1 hop</tspan></text>
<text><tspan x="538.5" y="1746">11@</tspan><tspan x="538.5" y="1754">1.</tspan><tspan x="538.5" y="1762">list.</tspan><tspan x="538.5" y="1770">dnswl.</tspan><tspan x="538.5" y="1778">org</tspan><tspan x="538.5" y="1786">2 hops</tspan></text>
<text><tspan x="554.5" y="1746">8@</tspan><tspan x="554.5" y="1754">2.</tspan><tspan x="554.5" y="1762">list.</tspan><tspan x="554.5" y="1770">dnswl.</tspan><tspan x="554.5" y="1778">org</tspan><tspan x="554.5" y="1786">1 hop</tspan></text>
<text><tspan x="571.5" y="1746">2@</tspan><tspan x="571.5" y="1754">dnsbl-1.</tspan><tspan x="571.5" y="1762">uceprotect.</tspan><tspan x="571.5" y="1770">net</tspan><tspan x="571.5" y="1778">1 hop</tspan></text>
<text><tspan x="588.5" y="1746">14@</tspan><tspan x="588.5" y="1754">dnsbl.</tspan><tspan x="588.5" y="1762">sorbs.</tspan><tspan x="588.5" y="1770">net</tspan><tspan x="588.5" y="1778">1 hop</tspan></text>
<text><tspan x="604.5" y="1746">7@</tspan><tspan x="604.5" y="1754">dnsbl.</tspan><tspan x="604.5" y="1762">sorbs.</tspan><tspan x="604.5" y="1770">net</tspan><tspan x="604.5" y="1778">1 hop</tspan></text>
<text><tspan x="621.5" y="1746">5@</tspan><tspan x="621.5" y="1754">0.</tspan><tspan x="621.5" y="1762">list.</tspan><tspan x="621.5" y="1770">dnswl.</tspan><tspan x="621.5" y="1778">org</tspan><tspan x="621.5" y="1786">4 hops</tspan></text>
<text><tspan x="638.5" y="1746">4@</tspan><tspan x="638.5" y="1754">zen.</tspan><tspan x="638.5" y="1762">spamhaus.</tspan><tspan x="638.5" y="1770">org</tspan><tspan x="638.5" y="1778">2 hops</tspan></text>
<text><tspan x="654.5" y="1746">11@</tspan><tspan x="654.5" y="1754">1.</tspan><tspan x="654.5" y="1762">list.</tspan><tspan x="654.5" y="1770">dnswl.</tspan><tspan x="654.5" y="1778">org</tspan><tspan x="654.5" y="1786">1 hop</tspan></text>
<text><tspan x="671.5" y="1746">2@</tspan><tspan x="671.5" y="1754">dnsbl-2.</tspan><tspan x="671.5" y="1762">uceprotect.</tspan><tspan x="671.5" y="1770">net</tspan><tspan x="671.5" y="1778">2 hops</tspan></text>
<text><tspan x="687.5" y="1746">10@</tspan><tspan x="687.5" y="1754">dnsbl.</tspan><tspan x="687.5" y="1762">sorbs.</tspan><tspan x="687.5" y="1770">net</tspan><tspan x="687.5" y="1778">1 hop</tspan></text>
<text><tspan x="704.5" y="1746">6@</tspan><tspan x="704.5" y="1754">spam.</tspan><tspan x="704.5" y="1762">dnsbl.</tspan><tspan x="704.5" y="1770">sorbs.</tspan><tspan x="704.5" y="1778">net</tspan><tspan x="704.5" y="1786">5 hops</tspan></text>
<text><tspan x="721.5" y="1746">10@</tspan><tspan x="721.5" y="1754">dnsbl.</tspan><tspan x="721.5" y="1762">sorbs.</tspan><tspan x="721.5" y="1770">net</tspan><tspan x="721.5" y="1778">1 hop</tspan></text>
<text><tspan x="737.5" y="1746">2@</tspan><tspan x="737.5" y="1754">dnsbl-2.</tspan><tspan x="737.5" y="1762">uceprotect.</tspan><tspan x="737.5" y="1770">net</tspan><tspan x="737.5" y="1778">2 hops</tspan></text>
<text><tspan x="754.5" y="1746">3@</tspan><tspan x="754.5" y="1754">zen.</tspan><tspan x="754.5" y="1762">spamhaus.</tspan><tspan x="754.5" y="1770">org</tspan><tspan x="754.5" y="1778">2 hops</tspan></text>
<text><tspan x="771.5" y="1746">2@</tspan><tspan x="771.5" y="1754">dnsbl-3.</tspan><tspan x="771.5" y="1762">uceprotect.</tspan><tspan x="771.5" y="1770">net</tspan><tspan x="771.5" y="1778">1 hop</tspan></text>
<text><tspan x="787.5" y="1746">5@</tspan><tspan x="787.5" y="1754">0.</tspan><tspan x="787.5" y="1762">list.</tspan><tspan x="787.5" y="1770">dnswl.</tspan><tspan x="787.5" y="1778">org</tspan><tspan x="787.5" y="1786">origin</tspan></text>
<text><tspan x="804.5" y="1746">5@</tspan><tspan x="804.5" y="1754">Y.</tspan><tspan x="804.5" y="1762">list.</tspan><tspan x="804.5" y="1770">dnswl.</tspan><tspan x="804.5" y="1778">org</tspan><tspan x="804.5" y="1786">origin</tspan></text>
<text><tspan x="821.5" y="1746">6@</tspan><tspan x="821.5" y="1754">recent.</tspan><tspan x="821.5" y="1762">spam.</tspan><tspan x="821.5" y="1770">dnsbl.</tspan><tspan x="821.5" y="1778">sorbs.</tspan><tspan x="821.5" y="1786">net</tspan><tspan x="821.5" y="1794">1 hop</tspan></text>
<text><tspan x="837.5" y="1746">3@</tspan><tspan x="837.5" y="1754">Y.</tspan><tspan x="837.5" y="1762">list.</tspan><tspan x="837.5" y="1770">dnswl.</tspan><tspan x="837.5" y="1778">org</tspan><tspan x="837.5" y="1786">origin</tspan></text>
<text><tspan x="854.5" y="1746">11@</tspan><tspan x="854.5" y="1754">zen.</tspan><tspan x="854.5" y="1762">spamhaus.</tspan><tspan x="854.5" y="1770">org</tspan><tspan x="854.5" y="1778">2 hops</tspan></text>
<text><tspan x="871.5" y="1746">6@</tspan><tspan x="871.5" y="1754">dnsbl.</tspan><tspan x="871.5" y="1762">sorbs.</tspan><tspan x="871.5" y="1770">net</tspan><tspan x="871.5" y="1778">1 hop</tspan></text>
<text><tspan x="887.5" y="1746">6@</tspan><tspan x="887.5" y="1754">new.</tspan><tspan x="887.5" y="1762">spam.</tspan><tspan x="887.5" y="1770">dnsbl.</tspan><tspan x="887.5" y="1778">sorbs.</tspan><tspan x="887.5" y="1786">net</tspan><tspan x="887.5" y="1794">1 hop</tspan></text>
<text><tspan x="904.5" y="1746">11@</tspan><tspan x="904.5" y="1754">2.</tspan><tspan x="904.5" y="1762">list.</tspan><tspan x="904.5" y="1770">dnswl.</tspan><tspan x="904.5" y="1778">org</tspan><tspan x="904.5" y="1786">origin</tspan></text>
<text><tspan x="920.5" y="1746">2@</tspan><tspan x="920.5" y="1754">2.</tspan><tspan x="920.5" y="1762">list.</tspan><tspan x="920.5" y="1770">dnswl.</tspan><tspan x="920.5" y="1778">org</tspan><tspan x="920.5" y="1786">origin</tspan></text>
<text><tspan x="937.5" y="1746">11@</tspan><tspan x="937.5" y="1754">Y.</tspan><tspan x="937.5" y="1762">list.</tspan><tspan x="937.5" y="1770">dnswl.</tspan><tspan x="937.5" y="1778">org</tspan><tspan x="937.5" y="1786">origin</tspan></text>
<text><tspan x="954.5" y="1746">8@</tspan><tspan x="954.5" y="1754">list.</tspan><tspan x="954.5" y="1762">dnswl.</tspan><tspan x="954.5" y="1770">org</tspan><tspan x="954.5" y="1778">4 hops</tspan></text>
<text><tspan x="970.5" y="1746">5@</tspan><tspan x="970.5" y="1754">Y.</tspan><tspan x="970.5" y="1762">list.</tspan><tspan x="970.5" y="1770">dnswl.</tspan><tspan x="970.5" y="1778">org</tspan><tspan x="970.5" y="1786">4 hops</tspan></text>
<text><tspan x="987.5" y="1746">6@</tspan><tspan x="987.5" y="1754">old.</tspan><tspan x="987.5" y="1762">spam.</tspan><tspan x="987.5" y="1770">dnsbl.</tspan><tspan x="987.5" y="1778">sorbs.</tspan><tspan x="987.5" y="1786">net</tspan><tspan x="987.5" y="1794">4 hops</tspan></text>
<text><tspan x="1004.5" y="1746">6@</tspan><tspan x="1004.5" y="1754">old.</tspan><tspan x="1004.5" y="1762">spam.</tspan><tspan x="1004.5" y="1770">dnsbl.</tspan><tspan x="1004.5" y="1778">sorbs.</tspan><tspan x="1004.5" y="1786">net</tspan><tspan x="1004.5" y="1794">1 hop</tspan></text>
<text><tspan x="1020.5" y="1746">11@</tspan><tspan x="1020.5" y="1754">zen.</tspan><tspan x="1020.5" y="1762">spamhaus.</tspan><tspan x="1020.5" y="1770">org</tspan><tspan x="1020.5" y="1778">1 hop</tspan></text>
<text><tspan x="1037.5" y="1746">2@</tspan><tspan x="1037.5" y="1754">ips.</tspan><tspan x="1037.5" y="1762">backscatterer.</tspan><tspan x="1037.5" y="1770">org</tspan><tspan x="1037.5" y="1778">origin</tspan></text>
<text><tspan x="1054.5" y="1746">5@</tspan><tspan x="1054.5" y="1754">1.</tspan><tspan x="1054.5" y="1762">list.</tspan><tspan x="1054.5" y="1770">dnswl.</tspan><tspan x="1054.5" y="1778">org</tspan><tspan x="1054.5" y="1786">origin</tspan></text>
<text><tspan x="1070.5" y="1746">6@</tspan><tspan x="1070.5" y="1754">spam.</tspan><tspan x="1070.5" y="1762">dnsbl.</tspan><tspan x="1070.5" y="1770">sorbs.</tspan><tspan x="1070.5" y="1778">net</tspan><tspan x="1070.5" y="1786">4 hops</tspan></text>
<text><tspan x="1087.5" y="1746">2@</tspan><tspan x="1087.5" y="1754">ips.</tspan><tspan x="1087.5" y="1762">backscatterer.</tspan><tspan x="1087.5" y="1770">org</tspan><tspan x="1087.5" y="1778">1 hop</tspan></text>
<text><tspan x="1104.5" y="1746">6@</tspan><tspan x="1104.5" y="1754">spam.</tspan><tspan x="1104.5" y="1762">dnsbl.</tspan><tspan x="1104.5" y="1770">sorbs.</tspan><tspan x="1104.5" y="1778">net</tspan><tspan x="1104.5" y="1786">3 hops</tspan></text>
<text><tspan x="1120.5" y="1746">11@</tspan><tspan x="1120.5" y="1754">2.</tspan><tspan x="1120.5" y="1762">list.</tspan><tspan x="1120.5" y="1770">dnswl.</tspan><tspan x="1120.5" y="1778">org</tspan><tspan x="1120.5" y="1786">1 hop</tspan></text>
<text><tspan x="1137.5" y="1746">11@</tspan><tspan x="1137.5" y="1754">Y.</tspan><tspan x="1137.5" y="1762">list.</tspan><tspan x="1137.5" y="1770">dnswl.</tspan><tspan x="1137.5" y="1778">org</tspan><tspan x="1137.5" y="1786">1 hop</tspan></text>
<text><tspan x="1153.5" y="1746">10@</tspan><tspan x="1153.5" y="1754">dnsbl.</tspan><tspan x="1153.5" y="1762">sorbs.</tspan><tspan x="1153.5" y="1770">net</tspan><tspan x="1153.5" y="1778">3 hops</tspan></text>
<text><tspan x="1170.5" y="1746">11@</tspan><tspan x="1170.5" y="1754">zen.</tspan><tspan x="1170.5" y="1762">spamhaus.</tspan><tspan x="1170.5" y="1770">org</tspan><tspan x="1170.5" y="1778">2 hops</tspan></text>
<text><tspan x="1187.5" y="1746">11@</tspan><tspan x="1187.5" y="1754">0.</tspan><tspan x="1187.5" y="1762">list.</tspan><tspan x="1187.5" y="1770">dnswl.</tspan><tspan x="1187.5" y="1778">org</tspan><tspan x="1187.5" y="1786">1 hop</tspan></text>
<text><tspan x="1203.5" y="1746">2@</tspan><tspan x="1203.5" y="1754">Y.</tspan><tspan x="1203.5" y="1762">list.</tspan><tspan x="1203.5" y="1770">dnswl.</tspan><tspan x="1203.5" y="1778">org</tspan><tspan x="1203.5" y="1786">origin</tspan></text>
<text><tspan x="1220.5" y="1746">10@</tspan><tspan x="1220.5" y="1754">dnsbl.</tspan><tspan x="1220.5" y="1762">sorbs.</tspan><tspan x="1220.5" y="1770">net</tspan><tspan x="1220.5" y="1778">4 hops</tspan></text>
<text><tspan x="1237.5" y="1746">14@</tspan><tspan x="1237.5" y="1754">dnsbl.</tspan><tspan x="1237.5" y="1762">sorbs.</tspan><tspan x="1237.5" y="1770">net</tspan><tspan x="1237.5" y="1778">2 hops</tspan></text>
<text><tspan x="1253.5" y="1746">10@</tspan><tspan x="1253.5" y="1754">dnsbl.</tspan><tspan x="1253.5" y="1762">sorbs.</tspan><tspan x="1253.5" y="1770">net</tspan><tspan x="1253.5" y="1778">5 hops</tspan></text>
<text><tspan x="1270.5" y="1746">5@</tspan><tspan x="1270.5" y="1754">0.</tspan><tspan x="1270.5" y="1762">list.</tspan><tspan x="1270.5" y="1770">dnswl.</tspan><tspan x="1270.5" y="1778">org</tspan><tspan x="1270.5" y="1786">1 hop</tspan></text>
<text><tspan x="1287.5" y="1746">14@</tspan><tspan x="1287.5" y="1754">dnsbl.</tspan><tspan x="1287.5" y="1762">sorbs.</tspan><tspan x="1287.5" y="1770">net</tspan><tspan x="1287.5" y="1778">4 hops</tspan></text>
<text><tspan x="1303.5" y="1746">none</tspan><tspan x="1303.5" y="1754">origin</tspan></text>
<text><tspan x="1320.5" y="1746">6@</tspan><tspan x="1320.5" y="1754">recent.</tspan><tspan x="1320.5" y="1762">spam.</tspan><tspan x="1320.5" y="1770">dnsbl.</tspan><tspan x="1320.5" y="1778">sorbs.</tspan><tspan x="1320.5" y="1786">net</tspan><tspan x="1320.5" y="1794">3 hops</tspan></text>
<text><tspan x="1337.5" y="1746">2@</tspan><tspan x="1337.5" y="1754">dnsbl-3.</tspan><tspan x="1337.5" y="1762">uceprotect.</tspan><tspan x="1337.5" y="1770">net</tspan><tspan x="1337.5" y="1778">2 hops</tspan></text>
<text><tspan x="1353.5" y="1746">none</tspan><tspan x="1353.5" y="1754">3 hops</tspan></text>
<text><tspan x="1370.5" y="1746">8@</tspan><tspan x="1370.5" y="1754">list.</tspan><tspan x="1370.5" y="1762">dnswl.</tspan><tspan x="1370.5" y="1770">org</tspan><tspan x="1370.5" y="1778">origin</tspan></text>
<text><tspan x="1386.5" y="1746">6@</tspan><tspan x="1386.5" y="1754">spam.</tspan><tspan x="1386.5" y="1762">dnsbl.</tspan><tspan x="1386.5" y="1770">sorbs.</tspan><tspan x="1386.5" y="1778">net</tspan><tspan x="1386.5" y="1786">1 hop</tspan></text>
<text><tspan x="1403.5" y="1746">11@</tspan><tspan x="1403.5" y="1754">zen.</tspan><tspan x="1403.5" y="1762">spamhaus.</tspan><tspan x="1403.5" y="1770">org</tspan><tspan x="1403.5" y="1778">5 hops</tspan></text>
<text><tspan x="1420.5" y="1746">none</tspan><tspan x="1420.5" y="1754">1 hop</tspan></text>
<text><tspan x="1436.5" y="1746">2@</tspan><tspan x="1436.5" y="1754">dnsbl-2.</tspan><tspan x="1436.5" y="1762">uceprotect.</tspan><tspan x="1436.5" y="1770">net</tspan><tspan x="1436.5" y="1778">4 hops</tspan></text>
<text><tspan x="1453.5" y="1746">10@</tspan><tspan x="1453.5" y="1754">zen.</tspan><tspan x="1453.5" y="1762">spamhaus.</tspan><tspan x="1453.5" y="1770">org</tspan><tspan x="1453.5" y="1778">2 hops</tspan></text>
<text><tspan x="1470.5" y="1746">10@</tspan><tspan x="1470.5" y="1754">zen.</tspan><tspan x="1470.5" y="1762">spamhaus.</tspan><tspan x="1470.5" y="1770">org</tspan><tspan x="1470.5" y="1778">3 hops</tspan></text>
<text><tspan x="1486.5" y="1746">11@</tspan><tspan x="1486.5" y="1754">2.</tspan><tspan x="1486.5" y="1762">list.</tspan><tspan x="1486.5" y="1770">dnswl.</tspan><tspan x="1486.5" y="1778">org</tspan><tspan x="1486.5" y="1786">2 hops</tspan></text>
<text><tspan x="1503.5" y="1746">10@</tspan><tspan x="1503.5" y="1754">accredit.</tspan><tspan x="1503.5" y="1762">habeas.</tspan><tspan x="1503.5" y="1770">com</tspan><tspan x="1503.5" y="1778">origin</tspan></text>
<text><tspan x="1520.5" y="1746">9@</tspan><tspan x="1520.5" y="1754">0.</tspan><tspan x="1520.5" y="1762">list.</tspan><tspan x="1520.5" y="1770">dnswl.</tspan><tspan x="1520.5" y="1778">org</tspan><tspan x="1520.5" y="1786">origin</tspan></text>
<text><tspan x="1536.5" y="1746">8@</tspan><tspan x="1536.5" y="1754">list.</tspan><tspan x="1536.5" y="1762">dnswl.</tspan><tspan x="1536.5" y="1770">org</tspan><tspan x="1536.5" y="1778">1 hop</tspan></text>
<text><tspan x="1553.5" y="1746">5@</tspan><tspan x="1553.5" y="1754">Y.</tspan><tspan x="1553.5" y="1762">list.</tspan><tspan x="1553.5" y="1770">dnswl.</tspan><tspan x="1553.5" y="1778">org</tspan><tspan x="1553.5" y="1786">1 hop</tspan></text>
<text><tspan x="1570.5" y="1746">3@</tspan><tspan x="1570.5" y="1754">list.</tspan><tspan x="1570.5" y="1762">dnswl.</tspan><tspan x="1570.5" y="1770">org</tspan><tspan x="1570.5" y="1778">origin</tspan></text>
<text><tspan x="1586.5" y="1746">11@</tspan><tspan x="1586.5" y="1754">zen.</tspan><tspan x="1586.5" y="1762">spamhaus.</tspan><tspan x="1586.5" y="1770">org</tspan><tspan x="1586.5" y="1778">1 hop</tspan></text>
<text><tspan x="1603.5" y="1746">10@</tspan><tspan x="1603.5" y="1754">0.</tspan><tspan x="1603.5" y="1762">list.</tspan><tspan x="1603.5" y="1770">dnswl.</tspan><tspan x="1603.5" y="1778">org</tspan><tspan x="1603.5" y="1786">origin</tspan></text>
<text><tspan x="1620.5" y="1746">15@</tspan><tspan x="1620.5" y="1754">0.</tspan><tspan x="1620.5" y="1762">list.</tspan><tspan x="1620.5" y="1770">dnswl.</tspan><tspan x="1620.5" y="1778">org</tspan><tspan x="1620.5" y="1786">origin</tspan></text>
<text><tspan x="1636.5" y="1746">10@</tspan><tspan x="1636.5" y="1754">Y.</tspan><tspan x="1636.5" y="1762">list.</tspan><tspan x="1636.5" y="1770">dnswl.</tspan><tspan x="1636.5" y="1778">org</tspan><tspan x="1636.5" y="1786">origin</tspan></text>
<text><tspan x="1653.5" y="1746">15@</tspan><tspan x="1653.5" y="1754">Y.</tspan><tspan x="1653.5" y="1762">list.</tspan><tspan x="1653.5" y="1770">dnswl.</tspan><tspan x="1653.5" y="1778">org</tspan><tspan x="1653.5" y="1786">origin</tspan></text>
<text><tspan x="1669.5" y="1746">11@</tspan><tspan x="1669.5" y="1754">2.</tspan><tspan x="1669.5" y="1762">list.</tspan><tspan x="1669.5" y="1770">dnswl.</tspan><tspan x="1669.5" y="1778">org</tspan><tspan x="1669.5" y="1786">2 hops</tspan></text>
<text><tspan x="1686.5" y="1746">14@</tspan><tspan x="1686.5" y="1754">dnsbl.</tspan><tspan x="1686.5" y="1762">sorbs.</tspan><tspan x="1686.5" y="1770">net</tspan><tspan x="1686.5" y="1778">3 hops</tspan></text>
<text><tspan x="1703.5" y="1746">3@</tspan><tspan x="1703.5" y="1754">0.</tspan><tspan x="1703.5" y="1762">list.</tspan><tspan x="1703.5" y="1770">dnswl.</tspan><tspan x="1703.5" y="1778">org</tspan><tspan x="1703.5" y="1786">1 hop</tspan></text>
<text><tspan x="1719.5" y="1746">none</tspan><tspan x="1719.5" y="1754">1 hop</tspan></text>
<text><tspan x="1736.5" y="1746">15@</tspan><tspan x="1736.5" y="1754">0.</tspan><tspan x="1736.5" y="1762">list.</tspan><tspan x="1736.5" y="1770">dnswl.</tspan><tspan x="1736.5" y="1778">org</tspan><tspan x="1736.5" y="1786">2 hops</tspan></text>
<text><tspan x="1753.5" y="1746">15@</tspan><tspan x="1753.5" y="1754">Y.</tspan><tspan x="1753.5" y="1762">list.</tspan><tspan x="1753.5" y="1770">dnswl.</tspan><tspan x="1753.5" y="1778">org</tspan><tspan x="1753.5" y="1786">1 hop</tspan></text>
<text><tspan x="1769.5" y="1746">6@</tspan><tspan x="1769.5" y="1754">spam.</tspan><tspan x="1769.5" y="1762">dnsbl.</tspan><tspan x="1769.5" y="1770">sorbs.</tspan><tspan x="1769.5" y="1778">net</tspan><tspan x="1769.5" y="1786">2 hops</tspan></text>
<text><tspan x="1786.5" y="1746">1@</tspan><tspan x="1786.5" y="1754">list.</tspan><tspan x="1786.5" y="1762">dnswl.</tspan><tspan x="1786.5" y="1770">org</tspan><tspan x="1786.5" y="1778">origin</tspan></text>
<text><tspan x="1803.5" y="1746">6@</tspan><tspan x="1803.5" y="1754">old.</tspan><tspan x="1803.5" y="1762">spam.</tspan><tspan x="1803.5" y="1770">dnsbl.</tspan><tspan x="1803.5" y="1778">sorbs.</tspan><tspan x="1803.5" y="1786">net</tspan><tspan x="1803.5" y="1794">2 hops</tspan></text>
<text><tspan x="1819.5" y="1746">3@</tspan><tspan x="1819.5" y="1754">1.</tspan><tspan x="1819.5" y="1762">list.</tspan><tspan x="1819.5" y="1770">dnswl.</tspan><tspan x="1819.5" y="1778">org</tspan><tspan x="1819.5" y="1786">origin</tspan></text>
<text><tspan x="1836.5" y="1746">10@</tspan><tspan x="1836.5" y="1754">dnsbl.</tspan><tspan x="1836.5" y="1762">sorbs.</tspan><tspan x="1836.5" y="1770">net</tspan><tspan x="1836.5" y="1778">2 hops</tspan></text>
<text><tspan x="1853.5" y="1746">none</tspan><tspan x="1853.5" y="1754">4 hops</tspan></text>
<text><tspan x="1869.5" y="1746">14@</tspan><tspan x="1869.5" y="1754">Y.</tspan><tspan x="1869.5" y="1762">list.</tspan><tspan x="1869.5" y="1770">dnswl.</tspan><tspan x="1869.5" y="1778">org</tspan><tspan x="1869.5" y="1786">1 hop</tspan></text>
<text><tspan x="1886.5" y="1746">10@</tspan><tspan x="1886.5" y="1754">zen.</tspan><tspan x="1886.5" y="1762">spamhaus.</tspan><tspan x="1886.5" y="1770">org</tspan><tspan x="1886.5" y="1778">2 hops</tspan></text>
<text><tspan x="1902.5" y="1746">5@</tspan><tspan x="1902.5" y="1754">1.</tspan><tspan x="1902.5" y="1762">list.</tspan><tspan x="1902.5" y="1770">dnswl.</tspan><tspan x="1902.5" y="1778">org</tspan><tspan x="1902.5" y="1786">1 hop</tspan></text>
<text><tspan x="1919.5" y="1746">5@</tspan><tspan x="1919.5" y="1754">1.</tspan><tspan x="1919.5" y="1762">list.</tspan><tspan x="1919.5" y="1770">dnswl.</tspan><tspan x="1919.5" y="1778">org</tspan><tspan x="1919.5" y="1786">2 hops</tspan></text>
<text><tspan x="1936.5" y="1746">none</tspan><tspan x="1936.5" y="1754">5 hops</tspan></text>
<text><tspan x="1952.5" y="1746">5@</tspan><tspan x="1952.5" y="1754">Y.</tspan><tspan x="1952.5" y="1762">list.</tspan><tspan x="1952.5" y="1770">dnswl.</tspan><tspan x="1952.5" y="1778">org</tspan><tspan x="1952.5" y="1786">2 hops</tspan></text>
<text><tspan x="1969.5" y="1746">6@</tspan><tspan x="1969.5" y="1754">recent.</tspan><tspan x="1969.5" y="1762">spam.</tspan><tspan x="1969.5" y="1770">dnsbl.</tspan><tspan x="1969.5" y="1778">sorbs.</tspan><tspan x="1969.5" y="1786">net</tspan><tspan x="1969.5" y="1794">2 hops</tspan></text>
<text><tspan x="1986.5" y="1746">6@</tspan><tspan x="1986.5" y="1754">recent.</tspan><tspan x="1986.5" y="1762">spam.</tspan><tspan x="1986.5" y="1770">dnsbl.</tspan><tspan x="1986.5" y="1778">sorbs.</tspan><tspan x="1986.5" y="1786">net</tspan><tspan x="1986.5" y="1794">2 hops</tspan></text>
<text><tspan x="2002.5" y="1746">5@</tspan><tspan x="2002.5" y="1754">1.</tspan><tspan x="2002.5" y="1762">list.</tspan><tspan x="2002.5" y="1770">dnswl.</tspan><tspan x="2002.5" y="1778">org</tspan><tspan x="2002.5" y="1786">3 hops</tspan></text>
<text><tspan x="2019.5" y="1746">5@</tspan><tspan x="2019.5" y="1754">0.</tspan><tspan x="2019.5" y="1762">list.</tspan><tspan x="2019.5" y="1770">dnswl.</tspan><tspan x="2019.5" y="1778">org</tspan><tspan x="2019.5" y="1786">2 hops</tspan></text>
<text><tspan x="2036.5" y="1746">2@</tspan><tspan x="2036.5" y="1754">ips.</tspan><tspan x="2036.5" y="1762">backscatterer.</tspan><tspan x="2036.5" y="1770">org</tspan><tspan x="2036.5" y="1778">1 hop</tspan></text>
<text><tspan x="2052.5" y="1746">none</tspan><tspan x="2052.5" y="1754">6 hops</tspan></text>
<text><tspan x="2069.5" y="1746">5@</tspan><tspan x="2069.5" y="1754">Y.</tspan><tspan x="2069.5" y="1762">list.</tspan><tspan x="2069.5" y="1770">dnswl.</tspan><tspan x="2069.5" y="1778">org</tspan><tspan x="2069.5" y="1786">3 hops</tspan></text>
<text><tspan x="2086.5" y="1746">1@</tspan><tspan x="2086.5" y="1754">list.</tspan><tspan x="2086.5" y="1762">dnswl.</tspan><tspan x="2086.5" y="1770">org</tspan><tspan x="2086.5" y="1778">1 hop</tspan></text>
<text><tspan x="2102.5" y="1746">9@</tspan><tspan x="2102.5" y="1754">Y.</tspan><tspan x="2102.5" y="1762">list.</tspan><tspan x="2102.5" y="1770">dnswl.</tspan><tspan x="2102.5" y="1778">org</tspan><tspan x="2102.5" y="1786">origin</tspan></text>
<text><tspan x="2119.5" y="1746">3@</tspan><tspan x="2119.5" y="1754">2.</tspan><tspan x="2119.5" y="1762">list.</tspan><tspan x="2119.5" y="1770">dnswl.</tspan><tspan x="2119.5" y="1778">org</tspan><tspan x="2119.5" y="1786">1 hop</tspan></text>
<text><tspan x="2135.5" y="1746">6@</tspan><tspan x="2135.5" y="1754">recent.</tspan><tspan x="2135.5" y="1762">spam.</tspan><tspan x="2135.5" y="1770">dnsbl.</tspan><tspan x="2135.5" y="1778">sorbs.</tspan><tspan x="2135.5" y="1786">net</tspan><tspan x="2135.5" y="1794">4 hops</tspan></text>
<text><tspan x="2152.5" y="1746">5@</tspan><tspan x="2152.5" y="1754">0.</tspan><tspan x="2152.5" y="1762">list.</tspan><tspan x="2152.5" y="1770">dnswl.</tspan><tspan x="2152.5" y="1778">org</tspan><tspan x="2152.5" y="1786">2 hops</tspan></text>
<text><tspan x="2169.5" y="1746">8@</tspan><tspan x="2169.5" y="1754">list.</tspan><tspan x="2169.5" y="1762">dnswl.</tspan><tspan x="2169.5" y="1770">org</tspan><tspan x="2169.5" y="1778">2 hops</tspan></text>
<text><tspan x="2185.5" y="1746">9@</tspan><tspan x="2185.5" y="1754">0.</tspan><tspan x="2185.5" y="1762">list.</tspan><tspan x="2185.5" y="1770">dnswl.</tspan><tspan x="2185.5" y="1778">org</tspan><tspan x="2185.5" y="1786">2 hops</tspan></text>
<text><tspan x="2202.5" y="1746">9@</tspan><tspan x="2202.5" y="1754">0.</tspan><tspan x="2202.5" y="1762">list.</tspan><tspan x="2202.5" y="1770">dnswl.</tspan><tspan x="2202.5" y="1778">org</tspan><tspan x="2202.5" y="1786">origin</tspan></text>
<text><tspan x="2219.5" y="1746">9@</tspan><tspan x="2219.5" y="1754">1.</tspan><tspan x="2219.5" y="1762">list.</tspan><tspan x="2219.5" y="1770">dnswl.</tspan><tspan x="2219.5" y="1778">org</tspan><tspan x="2219.5" y="1786">origin</tspan></text>
<text><tspan x="2235.5" y="1746">10@</tspan><tspan x="2235.5" y="1754">Y.</tspan><tspan x="2235.5" y="1762">list.</tspan><tspan x="2235.5" y="1770">dnswl.</tspan><tspan x="2235.5" y="1778">org</tspan><tspan x="2235.5" y="1786">1 hop</tspan></text>
<text><tspan x="2252.5" y="1746">10@</tspan><tspan x="2252.5" y="1754">0.</tspan><tspan x="2252.5" y="1762">list.</tspan><tspan x="2252.5" y="1770">dnswl.</tspan><tspan x="2252.5" y="1778">org</tspan><tspan x="2252.5" y="1786">1 hop</tspan></text>
<text><tspan x="2269.5" y="1746">4@</tspan><tspan x="2269.5" y="1754">3.</tspan><tspan x="2269.5" y="1762">list.</tspan><tspan x="2269.5" y="1770">dnswl.</tspan><tspan x="2269.5" y="1778">org</tspan><tspan x="2269.5" y="1786">2 hops</tspan></text>
<text><tspan x="2285.5" y="1746">5@</tspan><tspan x="2285.5" y="1754">Y.</tspan><tspan x="2285.5" y="1762">list.</tspan><tspan x="2285.5" y="1770">dnswl.</tspan><tspan x="2285.5" y="1778">org</tspan><tspan x="2285.5" y="1786">2 hops</tspan></text>
<text><tspan x="2302.5" y="1746">8@</tspan><tspan x="2302.5" y="1754">list.</tspan><tspan x="2302.5" y="1762">dnswl.</tspan><tspan x="2302.5" y="1770">org</tspan><tspan x="2302.5" y="1778">1 hop</tspan></text>
<text><tspan x="2319.5" y="1746">3@</tspan><tspan x="2319.5" y="1754">Y.</tspan><tspan x="2319.5" y="1762">list.</tspan><tspan x="2319.5" y="1770">dnswl.</tspan><tspan x="2319.5" y="1778">org</tspan><tspan x="2319.5" y="1786">1 hop</tspan></text>
<text><tspan x="2335.5" y="1746">1@</tspan><tspan x="2335.5" y="1754">list.</tspan><tspan x="2335.5" y="1762">dnswl.</tspan><tspan x="2335.5" y="1770">org</tspan><tspan x="2335.5" y="1778">1 hop</tspan></text>
<text><tspan x="2352.5" y="1746">15@</tspan><tspan x="2352.5" y="1754">0.</tspan><tspan x="2352.5" y="1762">list.</tspan><tspan x="2352.5" y="1770">dnswl.</tspan><tspan x="2352.5" y="1778">org</tspan><tspan x="2352.5" y="1786">1 hop</tspan></text>
<text><tspan x="2368.5" y="1746">1@</tspan><tspan x="2368.5" y="1754">list.</tspan><tspan x="2368.5" y="1762">dnswl.</tspan><tspan x="2368.5" y="1770">org</tspan><tspan x="2368.5" y="1778">2 hops</tspan></text>
<text><tspan x="2385.5" y="1746">1@</tspan><tspan x="2385.5" y="1754">list.</tspan><tspan x="2385.5" y="1762">dnswl.</tspan><tspan x="2385.5" y="1770">org</tspan><tspan x="2385.5" y="1778">1 hop</tspan></text>
<text><tspan x="2402.5" y="1746">4@</tspan><tspan x="2402.5" y="1754">Y.</tspan><tspan x="2402.5" y="1762">list.</tspan><tspan x="2402.5" y="1770">dnswl.</tspan><tspan x="2402.5" y="1778">org</tspan><tspan x="2402.5" y="1786">1 hop</tspan></text>
<text><tspan x="2418.5" y="1746">3@</tspan><tspan x="2418.5" y="1754">0.</tspan><tspan x="2418.5" y="1762">list.</tspan><tspan x="2418.5" y="1770">dnswl.</tspan><tspan x="2418.5" y="1778">org</tspan><tspan x="2418.5" y="1786">2 hops</tspan></text>
<text><tspan x="2435.5" y="1746">13@</tspan><tspan x="2435.5" y="1754">2.</tspan><tspan x="2435.5" y="1762">list.</tspan><tspan x="2435.5" y="1770">dnswl.</tspan><tspan x="2435.5" y="1778">org</tspan><tspan x="2435.5" y="1786">1 hop</tspan></text>
<text><tspan x="2452.5" y="1746">4@</tspan><tspan x="2452.5" y="1754">2.</tspan><tspan x="2452.5" y="1762">list.</tspan><tspan x="2452.5" y="1770">dnswl.</tspan><tspan x="2452.5" y="1778">org</tspan><tspan x="2452.5" y="1786">1 hop</tspan></text>
<text><tspan x="2468.5" y="1746">10@</tspan><tspan x="2468.5" y="1754">zen.</tspan><tspan x="2468.5" y="1762">spamhaus.</tspan><tspan x="2468.5" y="1770">org</tspan><tspan x="2468.5" y="1778">5 hops</tspan></text>
<text><tspan x="2485.5" y="1746">2@</tspan><tspan x="2485.5" y="1754">ips.</tspan><tspan x="2485.5" y="1762">backscatterer.</tspan><tspan x="2485.5" y="1770">org</tspan><tspan x="2485.5" y="1778">2 hops</tspan></text>
<text><tspan x="2502.5" y="1746">6@</tspan><tspan x="2502.5" y="1754">new.</tspan><tspan x="2502.5" y="1762">spam.</tspan><tspan x="2502.5" y="1770">dnsbl.</tspan><tspan x="2502.5" y="1778">sorbs.</tspan><tspan x="2502.5" y="1786">net</tspan><tspan x="2502.5" y="1794">2 hops</tspan></text>
<text><tspan x="2518.5" y="1746">2@</tspan><tspan x="2518.5" y="1754">ips.</tspan><tspan x="2518.5" y="1762">backscatterer.</tspan><tspan x="2518.5" y="1770">org</tspan><tspan x="2518.5" y="1778">5 hops</tspan></text>
<text><tspan x="2535.5" y="1746">15@</tspan><tspan x="2535.5" y="1754">Y.</tspan><tspan x="2535.5" y="1762">list.</tspan><tspan x="2535.5" y="1770">dnswl.</tspan><tspan x="2535.5" y="1778">org</tspan><tspan x="2535.5" y="1786">1 hop</tspan></text>
<text><tspan x="2552.5" y="1746">6@</tspan><tspan x="2552.5" y="1754">dnsbl.</tspan><tspan x="2552.5" y="1762">sorbs.</tspan><tspan x="2552.5" y="1770">net</tspan><tspan x="2552.5" y="1778">2 hops</tspan></text>
<text><tspan x="2568.5" y="1746">5@</tspan><tspan x="2568.5" y="1754">2.</tspan><tspan x="2568.5" y="1762">list.</tspan><tspan x="2568.5" y="1770">dnswl.</tspan><tspan x="2568.5" y="1778">org</tspan><tspan x="2568.5" y="1786">1 hop</tspan></text>
<text><tspan x="2585.5" y="1746">none</tspan><tspan x="2585.5" y="1754">7 hops</tspan></text>
<text><tspan x="2601.5" y="1746">13@</tspan><tspan x="2601.5" y="1754">Y.</tspan><tspan x="2601.5" y="1762">list.</tspan><tspan x="2601.5" y="1770">dnswl.</tspan><tspan x="2601.5" y="1778">org</tspan><tspan x="2601.5" y="1786">1 hop</tspan></text>
<text><tspan x="2618.5" y="1746">3@</tspan><tspan x="2618.5" y="1754">list.</tspan><tspan x="2618.5" y="1762">dnswl.</tspan><tspan x="2618.5" y="1770">org</tspan><tspan x="2618.5" y="1778">2 hops</tspan></text>
<text><tspan x="2635.5" y="1746">9@</tspan><tspan x="2635.5" y="1754">2.</tspan><tspan x="2635.5" y="1762">list.</tspan><tspan x="2635.5" y="1770">dnswl.</tspan><tspan x="2635.5" y="1778">org</tspan><tspan x="2635.5" y="1786">3 hops</tspan></text>
<text><tspan x="2651.5" y="1746">4@</tspan><tspan x="2651.5" y="1754">3.</tspan><tspan x="2651.5" y="1762">list.</tspan><tspan x="2651.5" y="1770">dnswl.</tspan><tspan x="2651.5" y="1778">org</tspan><tspan x="2651.5" y="1786">origin</tspan></text>
<text><tspan x="2668.5" y="1746">3@</tspan><tspan x="2668.5" y="1754">list.</tspan><tspan x="2668.5" y="1762">dnswl.</tspan><tspan x="2668.5" y="1770">org</tspan><tspan x="2668.5" y="1778">1 hop</tspan></text>
<text><tspan x="2685.5" y="1746">4@</tspan><tspan x="2685.5" y="1754">Y.</tspan><tspan x="2685.5" y="1762">list.</tspan><tspan x="2685.5" y="1770">dnswl.</tspan><tspan x="2685.5" y="1778">org</tspan><tspan x="2685.5" y="1786">2 hops</tspan></text>
<text><tspan x="2701.5" y="1746">2@</tspan><tspan x="2701.5" y="1754">list.</tspan><tspan x="2701.5" y="1762">dnswl.</tspan><tspan x="2701.5" y="1770">org</tspan><tspan x="2701.5" y="1778">3 hops</tspan></text>
<text><tspan x="2718.5" y="1746">9@</tspan><tspan x="2718.5" y="1754">3.</tspan><tspan x="2718.5" y="1762">list.</tspan><tspan x="2718.5" y="1770">dnswl.</tspan><tspan x="2718.5" y="1778">org</tspan><tspan x="2718.5" y="1786">2 hops</tspan></text>
<text><tspan x="2735.5" y="1746">2@</tspan><tspan x="2735.5" y="1754">dnsbl-3.</tspan><tspan x="2735.5" y="1762">uceprotect.</tspan><tspan x="2735.5" y="1770">net</tspan><tspan x="2735.5" y="1778">4 hops</tspan></text>
<text><tspan x="2751.5" y="1746">4@</tspan><tspan x="2751.5" y="1754">Y.</tspan><tspan x="2751.5" y="1762">list.</tspan><tspan x="2751.5" y="1770">dnswl.</tspan><tspan x="2751.5" y="1778">org</tspan><tspan x="2751.5" y="1786">origin</tspan></text>
<text><tspan x="2768.5" y="1746">2@</tspan><tspan x="2768.5" y="1754">list.</tspan><tspan x="2768.5" y="1762">dnswl.</tspan><tspan x="2768.5" y="1770">org</tspan><tspan x="2768.5" y="1778">origin</tspan></text>
<text><tspan x="2785.5" y="1746">13@</tspan><tspan x="2785.5" y="1754">3.</tspan><tspan x="2785.5" y="1762">list.</tspan><tspan x="2785.5" y="1770">dnswl.</tspan><tspan x="2785.5" y="1778">org</tspan><tspan x="2785.5" y="1786">1 hop</tspan></text>
<text><tspan x="2801.5" y="1746">4@</tspan><tspan x="2801.5" y="1754">Y.</tspan><tspan x="2801.5" y="1762">list.</tspan><tspan x="2801.5" y="1770">dnswl.</tspan><tspan x="2801.5" y="1778">org</tspan><tspan x="2801.5" y="1786">2 hops</tspan></text>
<text><tspan x="2818.5" y="1746">4@</tspan><tspan x="2818.5" y="1754">2.</tspan><tspan x="2818.5" y="1762">list.</tspan><tspan x="2818.5" y="1770">dnswl.</tspan><tspan x="2818.5" y="1778">org</tspan><tspan x="2818.5" y="1786">2 hops</tspan></text>
<text><tspan x="2834.5" y="1746">3@</tspan><tspan x="2834.5" y="1754">Y.</tspan><tspan x="2834.5" y="1762">list.</tspan><tspan x="2834.5" y="1770">dnswl.</tspan><tspan x="2834.5" y="1778">org</tspan><tspan x="2834.5" y="1786">origin</tspan></text>
<text><tspan x="2851.5" y="1746">9@</tspan><tspan x="2851.5" y="1754">2.</tspan><tspan x="2851.5" y="1762">list.</tspan><tspan x="2851.5" y="1770">dnswl.</tspan><tspan x="2851.5" y="1778">org</tspan><tspan x="2851.5" y="1786">1 hop</tspan></text>
<text><tspan x="2868.5" y="1746">3@</tspan><tspan x="2868.5" y="1754">1.</tspan><tspan x="2868.5" y="1762">list.</tspan><tspan x="2868.5" y="1770">dnswl.</tspan><tspan x="2868.5" y="1778">org</tspan><tspan x="2868.5" y="1786">1 hop</tspan></text>
<text><tspan x="2884.5" y="1746">9@</tspan><tspan x="2884.5" y="1754">3.</tspan><tspan x="2884.5" y="1762">list.</tspan><tspan x="2884.5" y="1770">dnswl.</tspan><tspan x="2884.5" y="1778">org</tspan><tspan x="2884.5" y="1786">1 hop</tspan></text>
<text><tspan x="2901.5" y="1746">6@</tspan><tspan x="2901.5" y="1754">new.</tspan><tspan x="2901.5" y="1762">spam.</tspan><tspan x="2901.5" y="1770">dnsbl.</tspan><tspan x="2901.5" y="1778">sorbs.</tspan><tspan x="2901.5" y="1786">net</tspan><tspan x="2901.5" y="1794">3 hops</tspan></text>
<text><tspan x="2918.5" y="1746">6@</tspan><tspan x="2918.5" y="1754">dnsbl.</tspan><tspan x="2918.5" y="1762">sorbs.</tspan><tspan x="2918.5" y="1770">net</tspan><tspan x="2918.5" y="1778">1 hop</tspan></text>
<text><tspan x="2934.5" y="1746">14@</tspan><tspan x="2934.5" y="1754">12.</tspan><tspan x="2934.5" y="1762">list.</tspan><tspan x="2934.5" y="1770">dnswl.</tspan><tspan x="2934.5" y="1778">org</tspan><tspan x="2934.5" y="1786">1 hop</tspan></text>
<text><tspan x="2951.5" y="1746">9@</tspan><tspan x="2951.5" y="1754">Y.</tspan><tspan x="2951.5" y="1762">list.</tspan><tspan x="2951.5" y="1770">dnswl.</tspan><tspan x="2951.5" y="1778">org</tspan><tspan x="2951.5" y="1786">3 hops</tspan></text>
<text><tspan x="2968.5" y="1746">2@</tspan><tspan x="2968.5" y="1754">list.</tspan><tspan x="2968.5" y="1762">dnswl.</tspan><tspan x="2968.5" y="1770">org</tspan><tspan x="2968.5" y="1778">1 hop</tspan></text>
<text><tspan x="2984.5" y="1746">9@</tspan><tspan x="2984.5" y="1754">0.</tspan><tspan x="2984.5" y="1762">list.</tspan><tspan x="2984.5" y="1770">dnswl.</tspan><tspan x="2984.5" y="1778">org</tspan><tspan x="2984.5" y="1786">1 hop</tspan></text>
<text><tspan x="3001.5" y="1746">9@</tspan><tspan x="3001.5" y="1754">Y.</tspan><tspan x="3001.5" y="1762">list.</tspan><tspan x="3001.5" y="1770">dnswl.</tspan><tspan x="3001.5" y="1778">org</tspan><tspan x="3001.5" y="1786">1 hop</tspan></text>
<text><tspan x="3018.5" y="1746">2@</tspan><tspan x="3018.5" y="1754">list.</tspan><tspan x="3018.5" y="1762">dnswl.</tspan><tspan x="3018.5" y="1770">org</tspan><tspan x="3018.5" y="1778">2 hops</tspan></text>
<text><tspan x="3034.5" y="1746">3@</tspan><tspan x="3034.5" y="1754">2.</tspan><tspan x="3034.5" y="1762">list.</tspan><tspan x="3034.5" y="1770">dnswl.</tspan><tspan x="3034.5" y="1778">org</tspan><tspan x="3034.5" y="1786">2 hops</tspan></text>
<text><tspan x="3051.5" y="1746">4@</tspan><tspan x="3051.5" y="1754">2.</tspan><tspan x="3051.5" y="1762">list.</tspan><tspan x="3051.5" y="1770">dnswl.</tspan><tspan x="3051.5" y="1778">org</tspan><tspan x="3051.5" y="1786">origin</tspan></text>
<text><tspan x="3067.5" y="1746">9@</tspan><tspan x="3067.5" y="1754">2.</tspan><tspan x="3067.5" y="1762">list.</tspan><tspan x="3067.5" y="1770">dnswl.</tspan><tspan x="3067.5" y="1778">org</tspan><tspan x="3067.5" y="1786">1 hop</tspan></text>
<text><tspan x="3084.5" y="1746">9@</tspan><tspan x="3084.5" y="1754">Y.</tspan><tspan x="3084.5" y="1762">list.</tspan><tspan x="3084.5" y="1770">dnswl.</tspan><tspan x="3084.5" y="1778">org</tspan><tspan x="3084.5" y="1786">2 hops</tspan></text>
<text><tspan x="3101.5" y="1746">4@</tspan><tspan x="3101.5" y="1754">2.</tspan><tspan x="3101.5" y="1762">list.</tspan><tspan x="3101.5" y="1770">dnswl.</tspan><tspan x="3101.5" y="1778">org</tspan><tspan x="3101.5" y="1786">3 hops</tspan></text>
<text><tspan x="3117.5" y="1746">2@</tspan><tspan x="3117.5" y="1754">12.</tspan><tspan x="3117.5" y="1762">list.</tspan><tspan x="3117.5" y="1770">dnswl.</tspan><tspan x="3117.5" y="1778">org</tspan><tspan x="3117.5" y="1786">origin</tspan></text>
<text><tspan x="3134.5" y="1746">6@</tspan><tspan x="3134.5" y="1754">2.</tspan><tspan x="3134.5" y="1762">list.</tspan><tspan x="3134.5" y="1770">dnswl.</tspan><tspan x="3134.5" y="1778">org</tspan><tspan x="3134.5" y="1786">1 hop</tspan></text>
<text><tspan x="3151.5" y="1746">9@</tspan><tspan x="3151.5" y="1754">1.</tspan><tspan x="3151.5" y="1762">list.</tspan><tspan x="3151.5" y="1770">dnswl.</tspan><tspan x="3151.5" y="1778">org</tspan><tspan x="3151.5" y="1786">2 hops</tspan></text>
<text><tspan x="3167.5" y="1746">6@</tspan><tspan x="3167.5" y="1754">Y.</tspan><tspan x="3167.5" y="1762">list.</tspan><tspan x="3167.5" y="1770">dnswl.</tspan><tspan x="3167.5" y="1778">org</tspan><tspan x="3167.5" y="1786">1 hop</tspan></text>
</g>
</g>
</svg></body></html>
